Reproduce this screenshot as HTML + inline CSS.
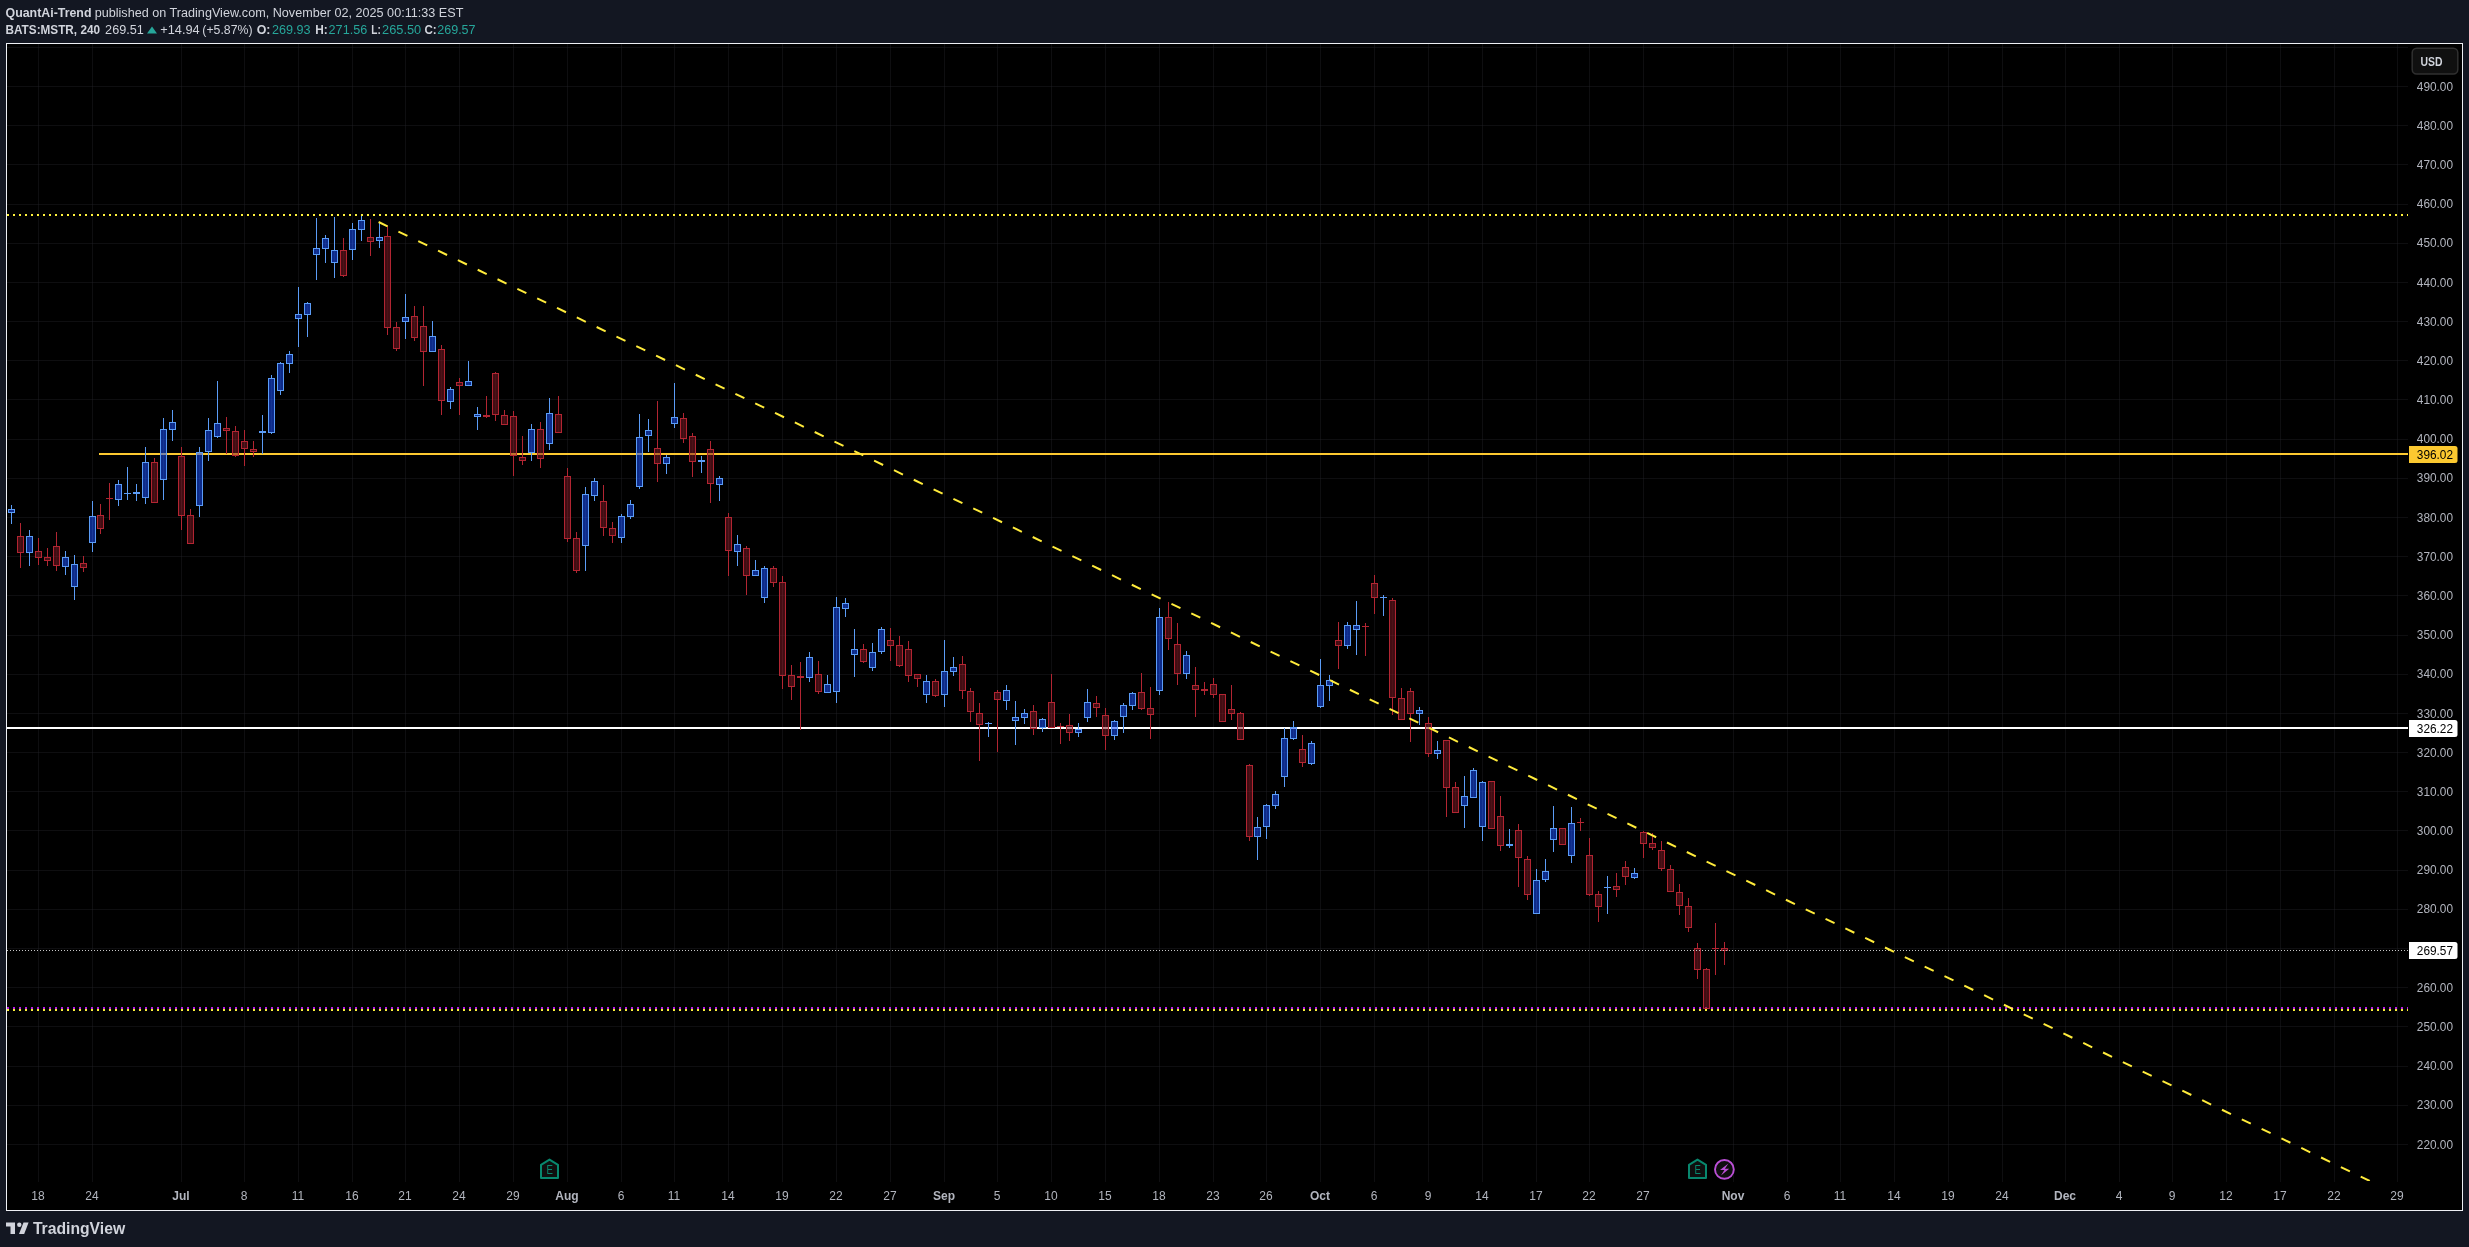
<!DOCTYPE html>
<html><head><meta charset="utf-8"><style>
html,body{margin:0;padding:0;background:#131722;width:2469px;height:1247px;overflow:hidden;}
svg{position:absolute;left:0;top:0;will-change:transform;}
text{font-family:"Liberation Sans",Arial,sans-serif;}
</style></head><body>
<svg width="2469" height="1247" viewBox="0 0 2469 1247" shape-rendering="crispEdges">
<defs><clipPath id="pane"><rect x="7" y="44" width="2401" height="1137"/></clipPath></defs>
<rect x="6.5" y="43.5" width="2456" height="1167" fill="#000" stroke="#eef0f5" stroke-width="1"/>
<rect x="38" y="44" width="1" height="1138" fill="rgba(38,38,44,0.37)"/>
<rect x="92" y="44" width="1" height="1138" fill="rgba(38,38,44,0.37)"/>
<rect x="181" y="44" width="1" height="1138" fill="rgba(38,38,44,0.37)"/>
<rect x="244" y="44" width="1" height="1138" fill="rgba(38,38,44,0.37)"/>
<rect x="298" y="44" width="1" height="1138" fill="rgba(38,38,44,0.37)"/>
<rect x="352" y="44" width="1" height="1138" fill="rgba(38,38,44,0.37)"/>
<rect x="405" y="44" width="1" height="1138" fill="rgba(38,38,44,0.37)"/>
<rect x="459" y="44" width="1" height="1138" fill="rgba(38,38,44,0.37)"/>
<rect x="513" y="44" width="1" height="1138" fill="rgba(38,38,44,0.37)"/>
<rect x="567" y="44" width="1" height="1138" fill="rgba(38,38,44,0.37)"/>
<rect x="621" y="44" width="1" height="1138" fill="rgba(38,38,44,0.37)"/>
<rect x="674" y="44" width="1" height="1138" fill="rgba(38,38,44,0.37)"/>
<rect x="728" y="44" width="1" height="1138" fill="rgba(38,38,44,0.37)"/>
<rect x="782" y="44" width="1" height="1138" fill="rgba(38,38,44,0.37)"/>
<rect x="836" y="44" width="1" height="1138" fill="rgba(38,38,44,0.37)"/>
<rect x="890" y="44" width="1" height="1138" fill="rgba(38,38,44,0.37)"/>
<rect x="944" y="44" width="1" height="1138" fill="rgba(38,38,44,0.37)"/>
<rect x="997" y="44" width="1" height="1138" fill="rgba(38,38,44,0.37)"/>
<rect x="1051" y="44" width="1" height="1138" fill="rgba(38,38,44,0.37)"/>
<rect x="1105" y="44" width="1" height="1138" fill="rgba(38,38,44,0.37)"/>
<rect x="1159" y="44" width="1" height="1138" fill="rgba(38,38,44,0.37)"/>
<rect x="1213" y="44" width="1" height="1138" fill="rgba(38,38,44,0.37)"/>
<rect x="1266" y="44" width="1" height="1138" fill="rgba(38,38,44,0.37)"/>
<rect x="1320" y="44" width="1" height="1138" fill="rgba(38,38,44,0.37)"/>
<rect x="1374" y="44" width="1" height="1138" fill="rgba(38,38,44,0.37)"/>
<rect x="1428" y="44" width="1" height="1138" fill="rgba(38,38,44,0.37)"/>
<rect x="1482" y="44" width="1" height="1138" fill="rgba(38,38,44,0.37)"/>
<rect x="1536" y="44" width="1" height="1138" fill="rgba(38,38,44,0.37)"/>
<rect x="1589" y="44" width="1" height="1138" fill="rgba(38,38,44,0.37)"/>
<rect x="1643" y="44" width="1" height="1138" fill="rgba(38,38,44,0.37)"/>
<rect x="1733" y="44" width="1" height="1138" fill="rgba(38,38,44,0.37)"/>
<rect x="1787" y="44" width="1" height="1138" fill="rgba(38,38,44,0.37)"/>
<rect x="1840" y="44" width="1" height="1138" fill="rgba(38,38,44,0.37)"/>
<rect x="1894" y="44" width="1" height="1138" fill="rgba(38,38,44,0.37)"/>
<rect x="1948" y="44" width="1" height="1138" fill="rgba(38,38,44,0.37)"/>
<rect x="2002" y="44" width="1" height="1138" fill="rgba(38,38,44,0.37)"/>
<rect x="2065" y="44" width="1" height="1138" fill="rgba(38,38,44,0.37)"/>
<rect x="2119" y="44" width="1" height="1138" fill="rgba(38,38,44,0.37)"/>
<rect x="2172" y="44" width="1" height="1138" fill="rgba(38,38,44,0.37)"/>
<rect x="2226" y="44" width="1" height="1138" fill="rgba(38,38,44,0.37)"/>
<rect x="2280" y="44" width="1" height="1138" fill="rgba(38,38,44,0.37)"/>
<rect x="2334" y="44" width="1" height="1138" fill="rgba(38,38,44,0.37)"/>
<rect x="2397" y="44" width="1" height="1138" fill="rgba(38,38,44,0.37)"/>
<rect x="7" y="47" width="2401" height="1" fill="rgba(38,38,44,0.37)"/>
<rect x="7" y="86" width="2401" height="1" fill="rgba(38,38,44,0.37)"/>
<rect x="7" y="125" width="2401" height="1" fill="rgba(38,38,44,0.37)"/>
<rect x="7" y="164" width="2401" height="1" fill="rgba(38,38,44,0.37)"/>
<rect x="7" y="204" width="2401" height="1" fill="rgba(38,38,44,0.37)"/>
<rect x="7" y="243" width="2401" height="1" fill="rgba(38,38,44,0.37)"/>
<rect x="7" y="282" width="2401" height="1" fill="rgba(38,38,44,0.37)"/>
<rect x="7" y="321" width="2401" height="1" fill="rgba(38,38,44,0.37)"/>
<rect x="7" y="360" width="2401" height="1" fill="rgba(38,38,44,0.37)"/>
<rect x="7" y="399" width="2401" height="1" fill="rgba(38,38,44,0.37)"/>
<rect x="7" y="439" width="2401" height="1" fill="rgba(38,38,44,0.37)"/>
<rect x="7" y="478" width="2401" height="1" fill="rgba(38,38,44,0.37)"/>
<rect x="7" y="517" width="2401" height="1" fill="rgba(38,38,44,0.37)"/>
<rect x="7" y="556" width="2401" height="1" fill="rgba(38,38,44,0.37)"/>
<rect x="7" y="595" width="2401" height="1" fill="rgba(38,38,44,0.37)"/>
<rect x="7" y="635" width="2401" height="1" fill="rgba(38,38,44,0.37)"/>
<rect x="7" y="674" width="2401" height="1" fill="rgba(38,38,44,0.37)"/>
<rect x="7" y="713" width="2401" height="1" fill="rgba(38,38,44,0.37)"/>
<rect x="7" y="752" width="2401" height="1" fill="rgba(38,38,44,0.37)"/>
<rect x="7" y="791" width="2401" height="1" fill="rgba(38,38,44,0.37)"/>
<rect x="7" y="830" width="2401" height="1" fill="rgba(38,38,44,0.37)"/>
<rect x="7" y="870" width="2401" height="1" fill="rgba(38,38,44,0.37)"/>
<rect x="7" y="909" width="2401" height="1" fill="rgba(38,38,44,0.37)"/>
<rect x="7" y="948" width="2401" height="1" fill="rgba(38,38,44,0.37)"/>
<rect x="7" y="987" width="2401" height="1" fill="rgba(38,38,44,0.37)"/>
<rect x="7" y="1026" width="2401" height="1" fill="rgba(38,38,44,0.37)"/>
<rect x="7" y="1066" width="2401" height="1" fill="rgba(38,38,44,0.37)"/>
<rect x="7" y="1105" width="2401" height="1" fill="rgba(38,38,44,0.37)"/>
<rect x="7" y="1144" width="2401" height="1" fill="rgba(38,38,44,0.37)"/>
<line x1="7" y1="215" x2="2408" y2="215" stroke="#fff23c" stroke-width="2" stroke-dasharray="2 4" shape-rendering="crispEdges"/>
<rect x="99" y="453" width="2309" height="2" fill="#fcc930"/>
<rect x="7" y="727" width="2401" height="2" fill="#ffffff"/>
<line x1="7" y1="1008" x2="2408" y2="1008" stroke="#b41ee0" stroke-width="2" stroke-dasharray="2 4"/>
<line x1="7" y1="1010" x2="2408" y2="1010" stroke="#fff23c" stroke-width="2" stroke-dasharray="2 4"/>
<rect x="11" y="505" width="1" height="4" fill="#5b9cf6"/>
<rect x="11" y="513" width="1" height="11" fill="#5b9cf6"/>
<path d="M8 509h7v4h-7zM9 510v2h5v-2z" fill="#5b9cf6" fill-rule="evenodd"/>
<rect x="9" y="510" width="5" height="2" fill="rgba(24,78,251,0.55)"/>
<rect x="11" y="510" width="1" height="2" fill="rgba(110,160,255,0.08)"/>
<rect x="20" y="523" width="1" height="13" fill="#b22532"/>
<rect x="20" y="553" width="1" height="15" fill="#b22532"/>
<path d="M17 536h7v17h-7zM18 537v15h5v-15z" fill="#b22532" fill-rule="evenodd"/>
<rect x="18" y="537" width="5" height="15" fill="rgba(132,26,38,0.5)"/>
<rect x="20" y="537" width="1" height="15" fill="rgba(255,90,110,0.06)"/>
<rect x="29" y="530" width="1" height="6" fill="#5b9cf6"/>
<rect x="29" y="553" width="1" height="13" fill="#5b9cf6"/>
<path d="M26 536h7v17h-7zM27 537v15h5v-15z" fill="#5b9cf6" fill-rule="evenodd"/>
<rect x="27" y="537" width="5" height="15" fill="rgba(24,78,251,0.55)"/>
<rect x="29" y="537" width="1" height="15" fill="rgba(110,160,255,0.08)"/>
<rect x="38" y="538" width="1" height="13" fill="#b22532"/>
<rect x="38" y="558" width="1" height="7" fill="#b22532"/>
<path d="M35 551h7v7h-7zM36 552v5h5v-5z" fill="#b22532" fill-rule="evenodd"/>
<rect x="36" y="552" width="5" height="5" fill="rgba(132,26,38,0.5)"/>
<rect x="38" y="552" width="1" height="5" fill="rgba(255,90,110,0.06)"/>
<rect x="47" y="548" width="1" height="9" fill="#b22532"/>
<rect x="47" y="561" width="1" height="5" fill="#b22532"/>
<path d="M44 557h7v4h-7zM45 558v2h5v-2z" fill="#b22532" fill-rule="evenodd"/>
<rect x="45" y="558" width="5" height="2" fill="rgba(132,26,38,0.5)"/>
<rect x="47" y="558" width="1" height="2" fill="rgba(255,90,110,0.06)"/>
<rect x="56" y="532" width="1" height="14" fill="#b22532"/>
<rect x="56" y="566" width="1" height="5" fill="#b22532"/>
<path d="M53 546h7v20h-7zM54 547v18h5v-18z" fill="#b22532" fill-rule="evenodd"/>
<rect x="54" y="547" width="5" height="18" fill="rgba(132,26,38,0.5)"/>
<rect x="56" y="547" width="1" height="18" fill="rgba(255,90,110,0.06)"/>
<rect x="65" y="551" width="1" height="6" fill="#5b9cf6"/>
<rect x="65" y="567" width="1" height="8" fill="#5b9cf6"/>
<path d="M62 557h7v10h-7zM63 558v8h5v-8z" fill="#5b9cf6" fill-rule="evenodd"/>
<rect x="63" y="558" width="5" height="8" fill="rgba(24,78,251,0.55)"/>
<rect x="65" y="558" width="1" height="8" fill="rgba(110,160,255,0.08)"/>
<rect x="74" y="555" width="1" height="9" fill="#5b9cf6"/>
<rect x="74" y="587" width="1" height="13" fill="#5b9cf6"/>
<path d="M71 564h7v23h-7zM72 565v21h5v-21z" fill="#5b9cf6" fill-rule="evenodd"/>
<rect x="72" y="565" width="5" height="21" fill="rgba(24,78,251,0.55)"/>
<rect x="74" y="565" width="1" height="21" fill="rgba(110,160,255,0.08)"/>
<rect x="83" y="556" width="1" height="7" fill="#b22532"/>
<rect x="83" y="568" width="1" height="4" fill="#b22532"/>
<path d="M80 563h7v5h-7zM81 564v3h5v-3z" fill="#b22532" fill-rule="evenodd"/>
<rect x="81" y="564" width="5" height="3" fill="rgba(132,26,38,0.5)"/>
<rect x="83" y="564" width="1" height="3" fill="rgba(255,90,110,0.06)"/>
<rect x="92" y="501" width="1" height="15" fill="#5b9cf6"/>
<rect x="92" y="543" width="1" height="9" fill="#5b9cf6"/>
<path d="M89 516h7v27h-7zM90 517v25h5v-25z" fill="#5b9cf6" fill-rule="evenodd"/>
<rect x="90" y="517" width="5" height="25" fill="rgba(24,78,251,0.55)"/>
<rect x="92" y="517" width="1" height="25" fill="rgba(110,160,255,0.08)"/>
<rect x="100" y="504" width="1" height="11" fill="#b22532"/>
<rect x="100" y="529" width="1" height="5" fill="#b22532"/>
<path d="M97 515h7v14h-7zM98 516v12h5v-12z" fill="#b22532" fill-rule="evenodd"/>
<rect x="98" y="516" width="5" height="12" fill="rgba(132,26,38,0.5)"/>
<rect x="100" y="516" width="1" height="12" fill="rgba(255,90,110,0.06)"/>
<rect x="109" y="483" width="1" height="15" fill="#b22532"/>
<rect x="109" y="499" width="1" height="21" fill="#b22532"/>
<rect x="106" y="498" width="7" height="1" fill="#b22532"/>
<rect x="118" y="480" width="1" height="4" fill="#5b9cf6"/>
<rect x="118" y="500" width="1" height="6" fill="#5b9cf6"/>
<path d="M115 484h7v16h-7zM116 485v14h5v-14z" fill="#5b9cf6" fill-rule="evenodd"/>
<rect x="116" y="485" width="5" height="14" fill="rgba(24,78,251,0.55)"/>
<rect x="118" y="485" width="1" height="14" fill="rgba(110,160,255,0.08)"/>
<rect x="127" y="467" width="1" height="26" fill="#5b9cf6"/>
<rect x="127" y="494" width="1" height="6" fill="#5b9cf6"/>
<rect x="124" y="493" width="7" height="1" fill="#5b9cf6"/>
<rect x="136" y="484" width="1" height="8" fill="#5b9cf6"/>
<rect x="136" y="494" width="1" height="7" fill="#5b9cf6"/>
<rect x="133" y="492" width="7" height="2" fill="#5b9cf6"/>
<rect x="145" y="447" width="1" height="15" fill="#5b9cf6"/>
<rect x="145" y="498" width="1" height="6" fill="#5b9cf6"/>
<path d="M142 462h7v36h-7zM143 463v34h5v-34z" fill="#5b9cf6" fill-rule="evenodd"/>
<rect x="143" y="463" width="5" height="34" fill="rgba(24,78,251,0.55)"/>
<rect x="145" y="463" width="1" height="34" fill="rgba(110,160,255,0.08)"/>
<rect x="154" y="458" width="1" height="4" fill="#b22532"/>
<path d="M151 462h7v41h-7zM152 463v39h5v-39z" fill="#b22532" fill-rule="evenodd"/>
<rect x="152" y="463" width="5" height="39" fill="rgba(132,26,38,0.5)"/>
<rect x="154" y="463" width="1" height="39" fill="rgba(255,90,110,0.06)"/>
<rect x="163" y="418" width="1" height="11" fill="#5b9cf6"/>
<rect x="163" y="480" width="1" height="20" fill="#5b9cf6"/>
<path d="M160 429h7v51h-7zM161 430v49h5v-49z" fill="#5b9cf6" fill-rule="evenodd"/>
<rect x="161" y="430" width="5" height="49" fill="rgba(24,78,251,0.55)"/>
<rect x="163" y="430" width="1" height="49" fill="rgba(110,160,255,0.08)"/>
<rect x="172" y="410" width="1" height="12" fill="#5b9cf6"/>
<rect x="172" y="430" width="1" height="11" fill="#5b9cf6"/>
<path d="M169 422h7v8h-7zM170 423v6h5v-6z" fill="#5b9cf6" fill-rule="evenodd"/>
<rect x="170" y="423" width="5" height="6" fill="rgba(24,78,251,0.55)"/>
<rect x="172" y="423" width="1" height="6" fill="rgba(110,160,255,0.08)"/>
<rect x="181" y="447" width="1" height="9" fill="#b22532"/>
<rect x="181" y="516" width="1" height="14" fill="#b22532"/>
<path d="M178 456h7v60h-7zM179 457v58h5v-58z" fill="#b22532" fill-rule="evenodd"/>
<rect x="179" y="457" width="5" height="58" fill="rgba(132,26,38,0.5)"/>
<rect x="181" y="457" width="1" height="58" fill="rgba(255,90,110,0.06)"/>
<rect x="190" y="509" width="1" height="6" fill="#b22532"/>
<path d="M187 515h7v29h-7zM188 516v27h5v-27z" fill="#b22532" fill-rule="evenodd"/>
<rect x="188" y="516" width="5" height="27" fill="rgba(132,26,38,0.5)"/>
<rect x="190" y="516" width="1" height="27" fill="rgba(255,90,110,0.06)"/>
<rect x="199" y="447" width="1" height="5" fill="#5b9cf6"/>
<rect x="199" y="506" width="1" height="11" fill="#5b9cf6"/>
<path d="M196 452h7v54h-7zM197 453v52h5v-52z" fill="#5b9cf6" fill-rule="evenodd"/>
<rect x="197" y="453" width="5" height="52" fill="rgba(24,78,251,0.55)"/>
<rect x="199" y="453" width="1" height="52" fill="rgba(110,160,255,0.08)"/>
<rect x="208" y="418" width="1" height="12" fill="#5b9cf6"/>
<rect x="208" y="452" width="1" height="9" fill="#5b9cf6"/>
<path d="M205 430h7v22h-7zM206 431v20h5v-20z" fill="#5b9cf6" fill-rule="evenodd"/>
<rect x="206" y="431" width="5" height="20" fill="rgba(24,78,251,0.55)"/>
<rect x="208" y="431" width="1" height="20" fill="rgba(110,160,255,0.08)"/>
<rect x="217" y="381" width="1" height="42" fill="#5b9cf6"/>
<rect x="217" y="437" width="1" height="1" fill="#5b9cf6"/>
<path d="M214 423h7v14h-7zM215 424v12h5v-12z" fill="#5b9cf6" fill-rule="evenodd"/>
<rect x="215" y="424" width="5" height="12" fill="rgba(24,78,251,0.55)"/>
<rect x="217" y="424" width="1" height="12" fill="rgba(110,160,255,0.08)"/>
<rect x="226" y="417" width="1" height="11" fill="#b22532"/>
<rect x="226" y="431" width="1" height="23" fill="#b22532"/>
<path d="M223 428h7v3h-7zM224 429v1h5v-1z" fill="#b22532" fill-rule="evenodd"/>
<rect x="224" y="429" width="5" height="1" fill="rgba(132,26,38,0.5)"/>
<rect x="226" y="429" width="1" height="1" fill="rgba(255,90,110,0.06)"/>
<rect x="235" y="426" width="1" height="5" fill="#b22532"/>
<rect x="235" y="456" width="1" height="1" fill="#b22532"/>
<path d="M232 431h7v25h-7zM233 432v23h5v-23z" fill="#b22532" fill-rule="evenodd"/>
<rect x="233" y="432" width="5" height="23" fill="rgba(132,26,38,0.5)"/>
<rect x="235" y="432" width="1" height="23" fill="rgba(255,90,110,0.06)"/>
<rect x="244" y="430" width="1" height="11" fill="#b22532"/>
<rect x="244" y="449" width="1" height="17" fill="#b22532"/>
<path d="M241 441h7v8h-7zM242 442v6h5v-6z" fill="#b22532" fill-rule="evenodd"/>
<rect x="242" y="442" width="5" height="6" fill="rgba(132,26,38,0.5)"/>
<rect x="244" y="442" width="1" height="6" fill="rgba(255,90,110,0.06)"/>
<rect x="253" y="441" width="1" height="8" fill="#b22532"/>
<rect x="253" y="452" width="1" height="5" fill="#b22532"/>
<path d="M250 449h7v3h-7zM251 450v1h5v-1z" fill="#b22532" fill-rule="evenodd"/>
<rect x="251" y="450" width="5" height="1" fill="rgba(132,26,38,0.5)"/>
<rect x="253" y="450" width="1" height="1" fill="rgba(255,90,110,0.06)"/>
<rect x="262" y="415" width="1" height="16" fill="#5b9cf6"/>
<rect x="262" y="433" width="1" height="21" fill="#5b9cf6"/>
<rect x="259" y="431" width="7" height="2" fill="#5b9cf6"/>
<rect x="271" y="375" width="1" height="3" fill="#5b9cf6"/>
<rect x="271" y="433" width="1" height="1" fill="#5b9cf6"/>
<path d="M268 378h7v55h-7zM269 379v53h5v-53z" fill="#5b9cf6" fill-rule="evenodd"/>
<rect x="269" y="379" width="5" height="53" fill="rgba(24,78,251,0.55)"/>
<rect x="271" y="379" width="1" height="53" fill="rgba(110,160,255,0.08)"/>
<rect x="280" y="362" width="1" height="1" fill="#5b9cf6"/>
<rect x="280" y="391" width="1" height="4" fill="#5b9cf6"/>
<path d="M277 363h7v28h-7zM278 364v26h5v-26z" fill="#5b9cf6" fill-rule="evenodd"/>
<rect x="278" y="364" width="5" height="26" fill="rgba(24,78,251,0.55)"/>
<rect x="280" y="364" width="1" height="26" fill="rgba(110,160,255,0.08)"/>
<rect x="289" y="351" width="1" height="3" fill="#5b9cf6"/>
<rect x="289" y="364" width="1" height="9" fill="#5b9cf6"/>
<path d="M286 354h7v10h-7zM287 355v8h5v-8z" fill="#5b9cf6" fill-rule="evenodd"/>
<rect x="287" y="355" width="5" height="8" fill="rgba(24,78,251,0.55)"/>
<rect x="289" y="355" width="1" height="8" fill="rgba(110,160,255,0.08)"/>
<rect x="298" y="287" width="1" height="27" fill="#5b9cf6"/>
<rect x="298" y="319" width="1" height="28" fill="#5b9cf6"/>
<path d="M295 314h7v5h-7zM296 315v3h5v-3z" fill="#5b9cf6" fill-rule="evenodd"/>
<rect x="296" y="315" width="5" height="3" fill="rgba(24,78,251,0.55)"/>
<rect x="298" y="315" width="1" height="3" fill="rgba(110,160,255,0.08)"/>
<rect x="307" y="302" width="1" height="1" fill="#5b9cf6"/>
<rect x="307" y="315" width="1" height="22" fill="#5b9cf6"/>
<path d="M304 303h7v12h-7zM305 304v10h5v-10z" fill="#5b9cf6" fill-rule="evenodd"/>
<rect x="305" y="304" width="5" height="10" fill="rgba(24,78,251,0.55)"/>
<rect x="307" y="304" width="1" height="10" fill="rgba(110,160,255,0.08)"/>
<rect x="316" y="218" width="1" height="30" fill="#5b9cf6"/>
<rect x="316" y="255" width="1" height="25" fill="#5b9cf6"/>
<path d="M313 248h7v7h-7zM314 249v5h5v-5z" fill="#5b9cf6" fill-rule="evenodd"/>
<rect x="314" y="249" width="5" height="5" fill="rgba(24,78,251,0.55)"/>
<rect x="316" y="249" width="1" height="5" fill="rgba(110,160,255,0.08)"/>
<rect x="325" y="235" width="1" height="3" fill="#5b9cf6"/>
<rect x="325" y="249" width="1" height="14" fill="#5b9cf6"/>
<path d="M322 238h7v11h-7zM323 239v9h5v-9z" fill="#5b9cf6" fill-rule="evenodd"/>
<rect x="323" y="239" width="5" height="9" fill="rgba(24,78,251,0.55)"/>
<rect x="325" y="239" width="1" height="9" fill="rgba(110,160,255,0.08)"/>
<rect x="334" y="217" width="1" height="33" fill="#5b9cf6"/>
<rect x="334" y="263" width="1" height="15" fill="#5b9cf6"/>
<path d="M331 250h7v13h-7zM332 251v11h5v-11z" fill="#5b9cf6" fill-rule="evenodd"/>
<rect x="332" y="251" width="5" height="11" fill="rgba(24,78,251,0.55)"/>
<rect x="334" y="251" width="1" height="11" fill="rgba(110,160,255,0.08)"/>
<rect x="343" y="238" width="1" height="12" fill="#b22532"/>
<rect x="343" y="276" width="1" height="1" fill="#b22532"/>
<path d="M340 250h7v26h-7zM341 251v24h5v-24z" fill="#b22532" fill-rule="evenodd"/>
<rect x="341" y="251" width="5" height="24" fill="rgba(132,26,38,0.5)"/>
<rect x="343" y="251" width="1" height="24" fill="rgba(255,90,110,0.06)"/>
<rect x="352" y="223" width="1" height="6" fill="#5b9cf6"/>
<rect x="352" y="250" width="1" height="10" fill="#5b9cf6"/>
<path d="M349 229h7v21h-7zM350 230v19h5v-19z" fill="#5b9cf6" fill-rule="evenodd"/>
<rect x="350" y="230" width="5" height="19" fill="rgba(24,78,251,0.55)"/>
<rect x="352" y="230" width="1" height="19" fill="rgba(110,160,255,0.08)"/>
<rect x="361" y="216" width="1" height="4" fill="#5b9cf6"/>
<rect x="361" y="230" width="1" height="11" fill="#5b9cf6"/>
<path d="M358 220h7v10h-7zM359 221v8h5v-8z" fill="#5b9cf6" fill-rule="evenodd"/>
<rect x="359" y="221" width="5" height="8" fill="rgba(24,78,251,0.55)"/>
<rect x="361" y="221" width="1" height="8" fill="rgba(110,160,255,0.08)"/>
<rect x="370" y="219" width="1" height="18" fill="#b22532"/>
<rect x="370" y="242" width="1" height="14" fill="#b22532"/>
<path d="M367 237h7v5h-7zM368 238v3h5v-3z" fill="#b22532" fill-rule="evenodd"/>
<rect x="368" y="238" width="5" height="3" fill="rgba(132,26,38,0.5)"/>
<rect x="370" y="238" width="1" height="3" fill="rgba(255,90,110,0.06)"/>
<rect x="379" y="222" width="1" height="15" fill="#5b9cf6"/>
<rect x="379" y="241" width="1" height="7" fill="#5b9cf6"/>
<path d="M376 237h7v4h-7zM377 238v2h5v-2z" fill="#5b9cf6" fill-rule="evenodd"/>
<rect x="377" y="238" width="5" height="2" fill="rgba(24,78,251,0.55)"/>
<rect x="379" y="238" width="1" height="2" fill="rgba(110,160,255,0.08)"/>
<rect x="387" y="226" width="1" height="10" fill="#b22532"/>
<rect x="387" y="328" width="1" height="7" fill="#b22532"/>
<path d="M384 236h7v92h-7zM385 237v90h5v-90z" fill="#b22532" fill-rule="evenodd"/>
<rect x="385" y="237" width="5" height="90" fill="rgba(132,26,38,0.5)"/>
<rect x="387" y="237" width="1" height="90" fill="rgba(255,90,110,0.06)"/>
<rect x="396" y="322" width="1" height="5" fill="#b22532"/>
<rect x="396" y="349" width="1" height="2" fill="#b22532"/>
<path d="M393 327h7v22h-7zM394 328v20h5v-20z" fill="#b22532" fill-rule="evenodd"/>
<rect x="394" y="328" width="5" height="20" fill="rgba(132,26,38,0.5)"/>
<rect x="396" y="328" width="1" height="20" fill="rgba(255,90,110,0.06)"/>
<rect x="405" y="294" width="1" height="23" fill="#5b9cf6"/>
<rect x="405" y="322" width="1" height="17" fill="#5b9cf6"/>
<path d="M402 317h7v5h-7zM403 318v3h5v-3z" fill="#5b9cf6" fill-rule="evenodd"/>
<rect x="403" y="318" width="5" height="3" fill="rgba(24,78,251,0.55)"/>
<rect x="405" y="318" width="1" height="3" fill="rgba(110,160,255,0.08)"/>
<rect x="414" y="306" width="1" height="10" fill="#b22532"/>
<rect x="414" y="338" width="1" height="3" fill="#b22532"/>
<path d="M411 316h7v22h-7zM412 317v20h5v-20z" fill="#b22532" fill-rule="evenodd"/>
<rect x="412" y="317" width="5" height="20" fill="rgba(132,26,38,0.5)"/>
<rect x="414" y="317" width="1" height="20" fill="rgba(255,90,110,0.06)"/>
<rect x="423" y="306" width="1" height="20" fill="#b22532"/>
<rect x="423" y="352" width="1" height="34" fill="#b22532"/>
<path d="M420 326h7v26h-7zM421 327v24h5v-24z" fill="#b22532" fill-rule="evenodd"/>
<rect x="421" y="327" width="5" height="24" fill="rgba(132,26,38,0.5)"/>
<rect x="423" y="327" width="1" height="24" fill="rgba(255,90,110,0.06)"/>
<rect x="432" y="321" width="1" height="15" fill="#5b9cf6"/>
<path d="M429 336h7v16h-7zM430 337v14h5v-14z" fill="#5b9cf6" fill-rule="evenodd"/>
<rect x="430" y="337" width="5" height="14" fill="rgba(24,78,251,0.55)"/>
<rect x="432" y="337" width="1" height="14" fill="rgba(110,160,255,0.08)"/>
<rect x="441" y="345" width="1" height="4" fill="#b22532"/>
<rect x="441" y="401" width="1" height="14" fill="#b22532"/>
<path d="M438 349h7v52h-7zM439 350v50h5v-50z" fill="#b22532" fill-rule="evenodd"/>
<rect x="439" y="350" width="5" height="50" fill="rgba(132,26,38,0.5)"/>
<rect x="441" y="350" width="1" height="50" fill="rgba(255,90,110,0.06)"/>
<rect x="450" y="387" width="1" height="2" fill="#5b9cf6"/>
<rect x="450" y="402" width="1" height="7" fill="#5b9cf6"/>
<path d="M447 389h7v13h-7zM448 390v11h5v-11z" fill="#5b9cf6" fill-rule="evenodd"/>
<rect x="448" y="390" width="5" height="11" fill="rgba(24,78,251,0.55)"/>
<rect x="450" y="390" width="1" height="11" fill="rgba(110,160,255,0.08)"/>
<rect x="459" y="378" width="1" height="4" fill="#b22532"/>
<rect x="459" y="386" width="1" height="29" fill="#b22532"/>
<path d="M456 382h7v4h-7zM457 383v2h5v-2z" fill="#b22532" fill-rule="evenodd"/>
<rect x="457" y="383" width="5" height="2" fill="rgba(132,26,38,0.5)"/>
<rect x="459" y="383" width="1" height="2" fill="rgba(255,90,110,0.06)"/>
<rect x="468" y="361" width="1" height="20" fill="#5b9cf6"/>
<path d="M465 381h7v5h-7zM466 382v3h5v-3z" fill="#5b9cf6" fill-rule="evenodd"/>
<rect x="466" y="382" width="5" height="3" fill="rgba(24,78,251,0.55)"/>
<rect x="468" y="382" width="1" height="3" fill="rgba(110,160,255,0.08)"/>
<rect x="477" y="407" width="1" height="7" fill="#5b9cf6"/>
<rect x="477" y="417" width="1" height="13" fill="#5b9cf6"/>
<path d="M474 414h7v3h-7zM475 415v1h5v-1z" fill="#5b9cf6" fill-rule="evenodd"/>
<rect x="475" y="415" width="5" height="1" fill="rgba(24,78,251,0.55)"/>
<rect x="477" y="415" width="1" height="1" fill="rgba(110,160,255,0.08)"/>
<rect x="486" y="396" width="1" height="19" fill="#b22532"/>
<rect x="486" y="417" width="1" height="1" fill="#b22532"/>
<rect x="483" y="415" width="7" height="2" fill="#b22532"/>
<rect x="495" y="372" width="1" height="1" fill="#b22532"/>
<rect x="495" y="415" width="1" height="6" fill="#b22532"/>
<path d="M492 373h7v42h-7zM493 374v40h5v-40z" fill="#b22532" fill-rule="evenodd"/>
<rect x="493" y="374" width="5" height="40" fill="rgba(132,26,38,0.5)"/>
<rect x="495" y="374" width="1" height="40" fill="rgba(255,90,110,0.06)"/>
<rect x="504" y="410" width="1" height="5" fill="#b22532"/>
<path d="M501 415h7v10h-7zM502 416v8h5v-8z" fill="#b22532" fill-rule="evenodd"/>
<rect x="502" y="416" width="5" height="8" fill="rgba(132,26,38,0.5)"/>
<rect x="504" y="416" width="1" height="8" fill="rgba(255,90,110,0.06)"/>
<rect x="513" y="411" width="1" height="5" fill="#b22532"/>
<rect x="513" y="456" width="1" height="20" fill="#b22532"/>
<path d="M510 416h7v40h-7zM511 417v38h5v-38z" fill="#b22532" fill-rule="evenodd"/>
<rect x="511" y="417" width="5" height="38" fill="rgba(132,26,38,0.5)"/>
<rect x="513" y="417" width="1" height="38" fill="rgba(255,90,110,0.06)"/>
<rect x="522" y="436" width="1" height="21" fill="#b22532"/>
<rect x="522" y="461" width="1" height="4" fill="#b22532"/>
<path d="M519 457h7v4h-7zM520 458v2h5v-2z" fill="#b22532" fill-rule="evenodd"/>
<rect x="520" y="458" width="5" height="2" fill="rgba(132,26,38,0.5)"/>
<rect x="522" y="458" width="1" height="2" fill="rgba(255,90,110,0.06)"/>
<rect x="531" y="424" width="1" height="5" fill="#5b9cf6"/>
<rect x="531" y="453" width="1" height="8" fill="#5b9cf6"/>
<path d="M528 429h7v24h-7zM529 430v22h5v-22z" fill="#5b9cf6" fill-rule="evenodd"/>
<rect x="529" y="430" width="5" height="22" fill="rgba(24,78,251,0.55)"/>
<rect x="531" y="430" width="1" height="22" fill="rgba(110,160,255,0.08)"/>
<rect x="540" y="422" width="1" height="7" fill="#b22532"/>
<rect x="540" y="459" width="1" height="9" fill="#b22532"/>
<path d="M537 429h7v30h-7zM538 430v28h5v-28z" fill="#b22532" fill-rule="evenodd"/>
<rect x="538" y="430" width="5" height="28" fill="rgba(132,26,38,0.5)"/>
<rect x="540" y="430" width="1" height="28" fill="rgba(255,90,110,0.06)"/>
<rect x="549" y="398" width="1" height="15" fill="#5b9cf6"/>
<rect x="549" y="444" width="1" height="6" fill="#5b9cf6"/>
<path d="M546 413h7v31h-7zM547 414v29h5v-29z" fill="#5b9cf6" fill-rule="evenodd"/>
<rect x="547" y="414" width="5" height="29" fill="rgba(24,78,251,0.55)"/>
<rect x="549" y="414" width="1" height="29" fill="rgba(110,160,255,0.08)"/>
<rect x="558" y="396" width="1" height="18" fill="#b22532"/>
<path d="M555 414h7v19h-7zM556 415v17h5v-17z" fill="#b22532" fill-rule="evenodd"/>
<rect x="556" y="415" width="5" height="17" fill="rgba(132,26,38,0.5)"/>
<rect x="558" y="415" width="1" height="17" fill="rgba(255,90,110,0.06)"/>
<rect x="567" y="468" width="1" height="8" fill="#b22532"/>
<rect x="567" y="539" width="1" height="3" fill="#b22532"/>
<path d="M564 476h7v63h-7zM565 477v61h5v-61z" fill="#b22532" fill-rule="evenodd"/>
<rect x="565" y="477" width="5" height="61" fill="rgba(132,26,38,0.5)"/>
<rect x="567" y="477" width="1" height="61" fill="rgba(255,90,110,0.06)"/>
<rect x="576" y="532" width="1" height="6" fill="#b22532"/>
<rect x="576" y="571" width="1" height="2" fill="#b22532"/>
<path d="M573 538h7v33h-7zM574 539v31h5v-31z" fill="#b22532" fill-rule="evenodd"/>
<rect x="574" y="539" width="5" height="31" fill="rgba(132,26,38,0.5)"/>
<rect x="576" y="539" width="1" height="31" fill="rgba(255,90,110,0.06)"/>
<rect x="585" y="487" width="1" height="7" fill="#5b9cf6"/>
<rect x="585" y="546" width="1" height="25" fill="#5b9cf6"/>
<path d="M582 494h7v52h-7zM583 495v50h5v-50z" fill="#5b9cf6" fill-rule="evenodd"/>
<rect x="583" y="495" width="5" height="50" fill="rgba(24,78,251,0.55)"/>
<rect x="585" y="495" width="1" height="50" fill="rgba(110,160,255,0.08)"/>
<rect x="594" y="478" width="1" height="3" fill="#5b9cf6"/>
<rect x="594" y="496" width="1" height="5" fill="#5b9cf6"/>
<path d="M591 481h7v15h-7zM592 482v13h5v-13z" fill="#5b9cf6" fill-rule="evenodd"/>
<rect x="592" y="482" width="5" height="13" fill="rgba(24,78,251,0.55)"/>
<rect x="594" y="482" width="1" height="13" fill="rgba(110,160,255,0.08)"/>
<rect x="603" y="485" width="1" height="16" fill="#b22532"/>
<rect x="603" y="528" width="1" height="8" fill="#b22532"/>
<path d="M600 501h7v27h-7zM601 502v25h5v-25z" fill="#b22532" fill-rule="evenodd"/>
<rect x="601" y="502" width="5" height="25" fill="rgba(132,26,38,0.5)"/>
<rect x="603" y="502" width="1" height="25" fill="rgba(255,90,110,0.06)"/>
<rect x="612" y="522" width="1" height="6" fill="#b22532"/>
<rect x="612" y="536" width="1" height="7" fill="#b22532"/>
<path d="M609 528h7v8h-7zM610 529v6h5v-6z" fill="#b22532" fill-rule="evenodd"/>
<rect x="610" y="529" width="5" height="6" fill="rgba(132,26,38,0.5)"/>
<rect x="612" y="529" width="1" height="6" fill="rgba(255,90,110,0.06)"/>
<rect x="621" y="514" width="1" height="2" fill="#5b9cf6"/>
<rect x="621" y="538" width="1" height="5" fill="#5b9cf6"/>
<path d="M618 516h7v22h-7zM619 517v20h5v-20z" fill="#5b9cf6" fill-rule="evenodd"/>
<rect x="619" y="517" width="5" height="20" fill="rgba(24,78,251,0.55)"/>
<rect x="621" y="517" width="1" height="20" fill="rgba(110,160,255,0.08)"/>
<rect x="630" y="500" width="1" height="4" fill="#5b9cf6"/>
<rect x="630" y="517" width="1" height="2" fill="#5b9cf6"/>
<path d="M627 504h7v13h-7zM628 505v11h5v-11z" fill="#5b9cf6" fill-rule="evenodd"/>
<rect x="628" y="505" width="5" height="11" fill="rgba(24,78,251,0.55)"/>
<rect x="630" y="505" width="1" height="11" fill="rgba(110,160,255,0.08)"/>
<rect x="639" y="414" width="1" height="23" fill="#5b9cf6"/>
<rect x="639" y="487" width="1" height="2" fill="#5b9cf6"/>
<path d="M636 437h7v50h-7zM637 438v48h5v-48z" fill="#5b9cf6" fill-rule="evenodd"/>
<rect x="637" y="438" width="5" height="48" fill="rgba(24,78,251,0.55)"/>
<rect x="639" y="438" width="1" height="48" fill="rgba(110,160,255,0.08)"/>
<rect x="648" y="419" width="1" height="11" fill="#5b9cf6"/>
<rect x="648" y="436" width="1" height="16" fill="#5b9cf6"/>
<path d="M645 430h7v6h-7zM646 431v4h5v-4z" fill="#5b9cf6" fill-rule="evenodd"/>
<rect x="646" y="431" width="5" height="4" fill="rgba(24,78,251,0.55)"/>
<rect x="648" y="431" width="1" height="4" fill="rgba(110,160,255,0.08)"/>
<rect x="657" y="401" width="1" height="47" fill="#b22532"/>
<rect x="657" y="464" width="1" height="18" fill="#b22532"/>
<path d="M654 448h7v16h-7zM655 449v14h5v-14z" fill="#b22532" fill-rule="evenodd"/>
<rect x="655" y="449" width="5" height="14" fill="rgba(132,26,38,0.5)"/>
<rect x="657" y="449" width="1" height="14" fill="rgba(255,90,110,0.06)"/>
<rect x="666" y="455" width="1" height="2" fill="#5b9cf6"/>
<rect x="666" y="464" width="1" height="10" fill="#5b9cf6"/>
<path d="M663 457h7v7h-7zM664 458v5h5v-5z" fill="#5b9cf6" fill-rule="evenodd"/>
<rect x="664" y="458" width="5" height="5" fill="rgba(24,78,251,0.55)"/>
<rect x="666" y="458" width="1" height="5" fill="rgba(110,160,255,0.08)"/>
<rect x="674" y="383" width="1" height="34" fill="#5b9cf6"/>
<rect x="674" y="424" width="1" height="4" fill="#5b9cf6"/>
<path d="M671 417h7v7h-7zM672 418v5h5v-5z" fill="#5b9cf6" fill-rule="evenodd"/>
<rect x="672" y="418" width="5" height="5" fill="rgba(24,78,251,0.55)"/>
<rect x="674" y="418" width="1" height="5" fill="rgba(110,160,255,0.08)"/>
<rect x="683" y="413" width="1" height="5" fill="#b22532"/>
<rect x="683" y="439" width="1" height="4" fill="#b22532"/>
<path d="M680 418h7v21h-7zM681 419v19h5v-19z" fill="#b22532" fill-rule="evenodd"/>
<rect x="681" y="419" width="5" height="19" fill="rgba(132,26,38,0.5)"/>
<rect x="683" y="419" width="1" height="19" fill="rgba(255,90,110,0.06)"/>
<rect x="692" y="433" width="1" height="3" fill="#b22532"/>
<rect x="692" y="462" width="1" height="15" fill="#b22532"/>
<path d="M689 436h7v26h-7zM690 437v24h5v-24z" fill="#b22532" fill-rule="evenodd"/>
<rect x="690" y="437" width="5" height="24" fill="rgba(132,26,38,0.5)"/>
<rect x="692" y="437" width="1" height="24" fill="rgba(255,90,110,0.06)"/>
<rect x="701" y="456" width="1" height="4" fill="#5b9cf6"/>
<rect x="701" y="462" width="1" height="11" fill="#5b9cf6"/>
<rect x="698" y="460" width="7" height="2" fill="#5b9cf6"/>
<rect x="710" y="441" width="1" height="8" fill="#b22532"/>
<rect x="710" y="484" width="1" height="19" fill="#b22532"/>
<path d="M707 449h7v35h-7zM708 450v33h5v-33z" fill="#b22532" fill-rule="evenodd"/>
<rect x="708" y="450" width="5" height="33" fill="rgba(132,26,38,0.5)"/>
<rect x="710" y="450" width="1" height="33" fill="rgba(255,90,110,0.06)"/>
<rect x="719" y="476" width="1" height="2" fill="#5b9cf6"/>
<rect x="719" y="485" width="1" height="16" fill="#5b9cf6"/>
<path d="M716 478h7v7h-7zM717 479v5h5v-5z" fill="#5b9cf6" fill-rule="evenodd"/>
<rect x="717" y="479" width="5" height="5" fill="rgba(24,78,251,0.55)"/>
<rect x="719" y="479" width="1" height="5" fill="rgba(110,160,255,0.08)"/>
<rect x="728" y="513" width="1" height="4" fill="#b22532"/>
<rect x="728" y="551" width="1" height="25" fill="#b22532"/>
<path d="M725 517h7v34h-7zM726 518v32h5v-32z" fill="#b22532" fill-rule="evenodd"/>
<rect x="726" y="518" width="5" height="32" fill="rgba(132,26,38,0.5)"/>
<rect x="728" y="518" width="1" height="32" fill="rgba(255,90,110,0.06)"/>
<rect x="737" y="535" width="1" height="9" fill="#5b9cf6"/>
<rect x="737" y="552" width="1" height="14" fill="#5b9cf6"/>
<path d="M734 544h7v8h-7zM735 545v6h5v-6z" fill="#5b9cf6" fill-rule="evenodd"/>
<rect x="735" y="545" width="5" height="6" fill="rgba(24,78,251,0.55)"/>
<rect x="737" y="545" width="1" height="6" fill="rgba(110,160,255,0.08)"/>
<rect x="746" y="546" width="1" height="2" fill="#b22532"/>
<rect x="746" y="576" width="1" height="19" fill="#b22532"/>
<path d="M743 548h7v28h-7zM744 549v26h5v-26z" fill="#b22532" fill-rule="evenodd"/>
<rect x="744" y="549" width="5" height="26" fill="rgba(132,26,38,0.5)"/>
<rect x="746" y="549" width="1" height="26" fill="rgba(255,90,110,0.06)"/>
<rect x="755" y="560" width="1" height="10" fill="#5b9cf6"/>
<path d="M752 570h7v6h-7zM753 571v4h5v-4z" fill="#5b9cf6" fill-rule="evenodd"/>
<rect x="753" y="571" width="5" height="4" fill="rgba(24,78,251,0.55)"/>
<rect x="755" y="571" width="1" height="4" fill="rgba(110,160,255,0.08)"/>
<rect x="764" y="566" width="1" height="2" fill="#5b9cf6"/>
<rect x="764" y="598" width="1" height="5" fill="#5b9cf6"/>
<path d="M761 568h7v30h-7zM762 569v28h5v-28z" fill="#5b9cf6" fill-rule="evenodd"/>
<rect x="762" y="569" width="5" height="28" fill="rgba(24,78,251,0.55)"/>
<rect x="764" y="569" width="1" height="28" fill="rgba(110,160,255,0.08)"/>
<rect x="773" y="566" width="1" height="2" fill="#b22532"/>
<rect x="773" y="583" width="1" height="4" fill="#b22532"/>
<path d="M770 568h7v15h-7zM771 569v13h5v-13z" fill="#b22532" fill-rule="evenodd"/>
<rect x="771" y="569" width="5" height="13" fill="rgba(132,26,38,0.5)"/>
<rect x="773" y="569" width="1" height="13" fill="rgba(255,90,110,0.06)"/>
<rect x="782" y="576" width="1" height="6" fill="#b22532"/>
<rect x="782" y="676" width="1" height="13" fill="#b22532"/>
<path d="M779 582h7v94h-7zM780 583v92h5v-92z" fill="#b22532" fill-rule="evenodd"/>
<rect x="780" y="583" width="5" height="92" fill="rgba(132,26,38,0.5)"/>
<rect x="782" y="583" width="1" height="92" fill="rgba(255,90,110,0.06)"/>
<rect x="791" y="665" width="1" height="10" fill="#b22532"/>
<rect x="791" y="687" width="1" height="13" fill="#b22532"/>
<path d="M788 675h7v12h-7zM789 676v10h5v-10z" fill="#b22532" fill-rule="evenodd"/>
<rect x="789" y="676" width="5" height="10" fill="rgba(132,26,38,0.5)"/>
<rect x="791" y="676" width="1" height="10" fill="rgba(255,90,110,0.06)"/>
<rect x="800" y="662" width="1" height="14" fill="#b22532"/>
<rect x="800" y="678" width="1" height="52" fill="#b22532"/>
<rect x="797" y="676" width="7" height="2" fill="#b22532"/>
<rect x="809" y="652" width="1" height="5" fill="#5b9cf6"/>
<rect x="809" y="678" width="1" height="4" fill="#5b9cf6"/>
<path d="M806 657h7v21h-7zM807 658v19h5v-19z" fill="#5b9cf6" fill-rule="evenodd"/>
<rect x="807" y="658" width="5" height="19" fill="rgba(24,78,251,0.55)"/>
<rect x="809" y="658" width="1" height="19" fill="rgba(110,160,255,0.08)"/>
<rect x="818" y="661" width="1" height="13" fill="#b22532"/>
<rect x="818" y="692" width="1" height="2" fill="#b22532"/>
<path d="M815 674h7v18h-7zM816 675v16h5v-16z" fill="#b22532" fill-rule="evenodd"/>
<rect x="816" y="675" width="5" height="16" fill="rgba(132,26,38,0.5)"/>
<rect x="818" y="675" width="1" height="16" fill="rgba(255,90,110,0.06)"/>
<rect x="827" y="675" width="1" height="9" fill="#5b9cf6"/>
<path d="M824 684h7v9h-7zM825 685v7h5v-7z" fill="#5b9cf6" fill-rule="evenodd"/>
<rect x="825" y="685" width="5" height="7" fill="rgba(24,78,251,0.55)"/>
<rect x="827" y="685" width="1" height="7" fill="rgba(110,160,255,0.08)"/>
<rect x="836" y="597" width="1" height="10" fill="#5b9cf6"/>
<rect x="836" y="692" width="1" height="11" fill="#5b9cf6"/>
<path d="M833 607h7v85h-7zM834 608v83h5v-83z" fill="#5b9cf6" fill-rule="evenodd"/>
<rect x="834" y="608" width="5" height="83" fill="rgba(24,78,251,0.55)"/>
<rect x="836" y="608" width="1" height="83" fill="rgba(110,160,255,0.08)"/>
<rect x="845" y="598" width="1" height="5" fill="#5b9cf6"/>
<rect x="845" y="609" width="1" height="8" fill="#5b9cf6"/>
<path d="M842 603h7v6h-7zM843 604v4h5v-4z" fill="#5b9cf6" fill-rule="evenodd"/>
<rect x="843" y="604" width="5" height="4" fill="rgba(24,78,251,0.55)"/>
<rect x="845" y="604" width="1" height="4" fill="rgba(110,160,255,0.08)"/>
<rect x="854" y="629" width="1" height="20" fill="#5b9cf6"/>
<rect x="854" y="655" width="1" height="22" fill="#5b9cf6"/>
<path d="M851 649h7v6h-7zM852 650v4h5v-4z" fill="#5b9cf6" fill-rule="evenodd"/>
<rect x="852" y="650" width="5" height="4" fill="rgba(24,78,251,0.55)"/>
<rect x="854" y="650" width="1" height="4" fill="rgba(110,160,255,0.08)"/>
<rect x="863" y="644" width="1" height="5" fill="#b22532"/>
<rect x="863" y="662" width="1" height="1" fill="#b22532"/>
<path d="M860 649h7v13h-7zM861 650v11h5v-11z" fill="#b22532" fill-rule="evenodd"/>
<rect x="861" y="650" width="5" height="11" fill="rgba(132,26,38,0.5)"/>
<rect x="863" y="650" width="1" height="11" fill="rgba(255,90,110,0.06)"/>
<rect x="872" y="643" width="1" height="9" fill="#5b9cf6"/>
<rect x="872" y="668" width="1" height="3" fill="#5b9cf6"/>
<path d="M869 652h7v16h-7zM870 653v14h5v-14z" fill="#5b9cf6" fill-rule="evenodd"/>
<rect x="870" y="653" width="5" height="14" fill="rgba(24,78,251,0.55)"/>
<rect x="872" y="653" width="1" height="14" fill="rgba(110,160,255,0.08)"/>
<rect x="881" y="627" width="1" height="2" fill="#5b9cf6"/>
<rect x="881" y="652" width="1" height="2" fill="#5b9cf6"/>
<path d="M878 629h7v23h-7zM879 630v21h5v-21z" fill="#5b9cf6" fill-rule="evenodd"/>
<rect x="879" y="630" width="5" height="21" fill="rgba(24,78,251,0.55)"/>
<rect x="881" y="630" width="1" height="21" fill="rgba(110,160,255,0.08)"/>
<rect x="890" y="628" width="1" height="12" fill="#b22532"/>
<rect x="890" y="646" width="1" height="15" fill="#b22532"/>
<path d="M887 640h7v6h-7zM888 641v4h5v-4z" fill="#b22532" fill-rule="evenodd"/>
<rect x="888" y="641" width="5" height="4" fill="rgba(132,26,38,0.5)"/>
<rect x="890" y="641" width="1" height="4" fill="rgba(255,90,110,0.06)"/>
<rect x="899" y="636" width="1" height="9" fill="#b22532"/>
<rect x="899" y="666" width="1" height="1" fill="#b22532"/>
<path d="M896 645h7v21h-7zM897 646v19h5v-19z" fill="#b22532" fill-rule="evenodd"/>
<rect x="897" y="646" width="5" height="19" fill="rgba(132,26,38,0.5)"/>
<rect x="899" y="646" width="1" height="19" fill="rgba(255,90,110,0.06)"/>
<rect x="908" y="641" width="1" height="8" fill="#b22532"/>
<rect x="908" y="676" width="1" height="6" fill="#b22532"/>
<path d="M905 649h7v27h-7zM906 650v25h5v-25z" fill="#b22532" fill-rule="evenodd"/>
<rect x="906" y="650" width="5" height="25" fill="rgba(132,26,38,0.5)"/>
<rect x="908" y="650" width="1" height="25" fill="rgba(255,90,110,0.06)"/>
<rect x="917" y="679" width="1" height="8" fill="#b22532"/>
<path d="M914 674h7v5h-7zM915 675v3h5v-3z" fill="#b22532" fill-rule="evenodd"/>
<rect x="915" y="675" width="5" height="3" fill="rgba(132,26,38,0.5)"/>
<rect x="917" y="675" width="1" height="3" fill="rgba(255,90,110,0.06)"/>
<rect x="926" y="675" width="1" height="6" fill="#5b9cf6"/>
<rect x="926" y="695" width="1" height="8" fill="#5b9cf6"/>
<path d="M923 681h7v14h-7zM924 682v12h5v-12z" fill="#5b9cf6" fill-rule="evenodd"/>
<rect x="924" y="682" width="5" height="12" fill="rgba(24,78,251,0.55)"/>
<rect x="926" y="682" width="1" height="12" fill="rgba(110,160,255,0.08)"/>
<rect x="935" y="679" width="1" height="2" fill="#b22532"/>
<rect x="935" y="696" width="1" height="1" fill="#b22532"/>
<path d="M932 681h7v15h-7zM933 682v13h5v-13z" fill="#b22532" fill-rule="evenodd"/>
<rect x="933" y="682" width="5" height="13" fill="rgba(132,26,38,0.5)"/>
<rect x="935" y="682" width="1" height="13" fill="rgba(255,90,110,0.06)"/>
<rect x="944" y="640" width="1" height="31" fill="#5b9cf6"/>
<rect x="944" y="695" width="1" height="12" fill="#5b9cf6"/>
<path d="M941 671h7v24h-7zM942 672v22h5v-22z" fill="#5b9cf6" fill-rule="evenodd"/>
<rect x="942" y="672" width="5" height="22" fill="rgba(24,78,251,0.55)"/>
<rect x="944" y="672" width="1" height="22" fill="rgba(110,160,255,0.08)"/>
<rect x="953" y="657" width="1" height="10" fill="#5b9cf6"/>
<rect x="953" y="672" width="1" height="4" fill="#5b9cf6"/>
<path d="M950 667h7v5h-7zM951 668v3h5v-3z" fill="#5b9cf6" fill-rule="evenodd"/>
<rect x="951" y="668" width="5" height="3" fill="rgba(24,78,251,0.55)"/>
<rect x="953" y="668" width="1" height="3" fill="rgba(110,160,255,0.08)"/>
<rect x="962" y="656" width="1" height="8" fill="#b22532"/>
<rect x="962" y="691" width="1" height="8" fill="#b22532"/>
<path d="M959 664h7v27h-7zM960 665v25h5v-25z" fill="#b22532" fill-rule="evenodd"/>
<rect x="960" y="665" width="5" height="25" fill="rgba(132,26,38,0.5)"/>
<rect x="962" y="665" width="1" height="25" fill="rgba(255,90,110,0.06)"/>
<rect x="970" y="688" width="1" height="3" fill="#b22532"/>
<rect x="970" y="712" width="1" height="10" fill="#b22532"/>
<path d="M967 691h7v21h-7zM968 692v19h5v-19z" fill="#b22532" fill-rule="evenodd"/>
<rect x="968" y="692" width="5" height="19" fill="rgba(132,26,38,0.5)"/>
<rect x="970" y="692" width="1" height="19" fill="rgba(255,90,110,0.06)"/>
<rect x="979" y="703" width="1" height="10" fill="#b22532"/>
<rect x="979" y="725" width="1" height="36" fill="#b22532"/>
<path d="M976 713h7v12h-7zM977 714v10h5v-10z" fill="#b22532" fill-rule="evenodd"/>
<rect x="977" y="714" width="5" height="10" fill="rgba(132,26,38,0.5)"/>
<rect x="979" y="714" width="1" height="10" fill="rgba(255,90,110,0.06)"/>
<rect x="988" y="722" width="1" height="1" fill="#5b9cf6"/>
<rect x="988" y="724" width="1" height="13" fill="#5b9cf6"/>
<rect x="985" y="723" width="7" height="1" fill="#5b9cf6"/>
<rect x="997" y="690" width="1" height="2" fill="#b22532"/>
<rect x="997" y="700" width="1" height="52" fill="#b22532"/>
<path d="M994 692h7v8h-7zM995 693v6h5v-6z" fill="#b22532" fill-rule="evenodd"/>
<rect x="995" y="693" width="5" height="6" fill="rgba(132,26,38,0.5)"/>
<rect x="997" y="693" width="1" height="6" fill="rgba(255,90,110,0.06)"/>
<rect x="1006" y="685" width="1" height="5" fill="#5b9cf6"/>
<rect x="1006" y="701" width="1" height="9" fill="#5b9cf6"/>
<path d="M1003 690h7v11h-7zM1004 691v9h5v-9z" fill="#5b9cf6" fill-rule="evenodd"/>
<rect x="1004" y="691" width="5" height="9" fill="rgba(24,78,251,0.55)"/>
<rect x="1006" y="691" width="1" height="9" fill="rgba(110,160,255,0.08)"/>
<rect x="1015" y="701" width="1" height="16" fill="#5b9cf6"/>
<rect x="1015" y="721" width="1" height="24" fill="#5b9cf6"/>
<path d="M1012 717h7v4h-7zM1013 718v2h5v-2z" fill="#5b9cf6" fill-rule="evenodd"/>
<rect x="1013" y="718" width="5" height="2" fill="rgba(24,78,251,0.55)"/>
<rect x="1015" y="718" width="1" height="2" fill="rgba(110,160,255,0.08)"/>
<rect x="1024" y="709" width="1" height="4" fill="#5b9cf6"/>
<rect x="1024" y="718" width="1" height="6" fill="#5b9cf6"/>
<path d="M1021 713h7v5h-7zM1022 714v3h5v-3z" fill="#5b9cf6" fill-rule="evenodd"/>
<rect x="1022" y="714" width="5" height="3" fill="rgba(24,78,251,0.55)"/>
<rect x="1024" y="714" width="1" height="3" fill="rgba(110,160,255,0.08)"/>
<rect x="1033" y="705" width="1" height="6" fill="#b22532"/>
<rect x="1033" y="729" width="1" height="6" fill="#b22532"/>
<path d="M1030 711h7v18h-7zM1031 712v16h5v-16z" fill="#b22532" fill-rule="evenodd"/>
<rect x="1031" y="712" width="5" height="16" fill="rgba(132,26,38,0.5)"/>
<rect x="1033" y="712" width="1" height="16" fill="rgba(255,90,110,0.06)"/>
<rect x="1042" y="718" width="1" height="1" fill="#5b9cf6"/>
<rect x="1042" y="728" width="1" height="4" fill="#5b9cf6"/>
<path d="M1039 719h7v9h-7zM1040 720v7h5v-7z" fill="#5b9cf6" fill-rule="evenodd"/>
<rect x="1040" y="720" width="5" height="7" fill="rgba(24,78,251,0.55)"/>
<rect x="1042" y="720" width="1" height="7" fill="rgba(110,160,255,0.08)"/>
<rect x="1051" y="674" width="1" height="28" fill="#b22532"/>
<path d="M1048 702h7v26h-7zM1049 703v24h5v-24z" fill="#b22532" fill-rule="evenodd"/>
<rect x="1049" y="703" width="5" height="24" fill="rgba(132,26,38,0.5)"/>
<rect x="1051" y="703" width="1" height="24" fill="rgba(255,90,110,0.06)"/>
<rect x="1060" y="723" width="1" height="3" fill="#b22532"/>
<rect x="1060" y="727" width="1" height="17" fill="#b22532"/>
<rect x="1057" y="726" width="7" height="1" fill="#b22532"/>
<rect x="1069" y="714" width="1" height="11" fill="#b22532"/>
<rect x="1069" y="733" width="1" height="8" fill="#b22532"/>
<path d="M1066 725h7v8h-7zM1067 726v6h5v-6z" fill="#b22532" fill-rule="evenodd"/>
<rect x="1067" y="726" width="5" height="6" fill="rgba(132,26,38,0.5)"/>
<rect x="1069" y="726" width="1" height="6" fill="rgba(255,90,110,0.06)"/>
<rect x="1078" y="723" width="1" height="6" fill="#5b9cf6"/>
<rect x="1078" y="733" width="1" height="4" fill="#5b9cf6"/>
<path d="M1075 729h7v4h-7zM1076 730v2h5v-2z" fill="#5b9cf6" fill-rule="evenodd"/>
<rect x="1076" y="730" width="5" height="2" fill="rgba(24,78,251,0.55)"/>
<rect x="1078" y="730" width="1" height="2" fill="rgba(110,160,255,0.08)"/>
<rect x="1087" y="689" width="1" height="13" fill="#5b9cf6"/>
<rect x="1087" y="718" width="1" height="4" fill="#5b9cf6"/>
<path d="M1084 702h7v16h-7zM1085 703v14h5v-14z" fill="#5b9cf6" fill-rule="evenodd"/>
<rect x="1085" y="703" width="5" height="14" fill="rgba(24,78,251,0.55)"/>
<rect x="1087" y="703" width="1" height="14" fill="rgba(110,160,255,0.08)"/>
<rect x="1096" y="696" width="1" height="7" fill="#b22532"/>
<rect x="1096" y="708" width="1" height="9" fill="#b22532"/>
<path d="M1093 703h7v5h-7zM1094 704v3h5v-3z" fill="#b22532" fill-rule="evenodd"/>
<rect x="1094" y="704" width="5" height="3" fill="rgba(132,26,38,0.5)"/>
<rect x="1096" y="704" width="1" height="3" fill="rgba(255,90,110,0.06)"/>
<rect x="1105" y="708" width="1" height="7" fill="#b22532"/>
<rect x="1105" y="736" width="1" height="14" fill="#b22532"/>
<path d="M1102 715h7v21h-7zM1103 716v19h5v-19z" fill="#b22532" fill-rule="evenodd"/>
<rect x="1103" y="716" width="5" height="19" fill="rgba(132,26,38,0.5)"/>
<rect x="1105" y="716" width="1" height="19" fill="rgba(255,90,110,0.06)"/>
<rect x="1114" y="720" width="1" height="1" fill="#5b9cf6"/>
<rect x="1114" y="736" width="1" height="4" fill="#5b9cf6"/>
<path d="M1111 721h7v15h-7zM1112 722v13h5v-13z" fill="#5b9cf6" fill-rule="evenodd"/>
<rect x="1112" y="722" width="5" height="13" fill="rgba(24,78,251,0.55)"/>
<rect x="1114" y="722" width="1" height="13" fill="rgba(110,160,255,0.08)"/>
<rect x="1123" y="703" width="1" height="2" fill="#5b9cf6"/>
<rect x="1123" y="717" width="1" height="16" fill="#5b9cf6"/>
<path d="M1120 705h7v12h-7zM1121 706v10h5v-10z" fill="#5b9cf6" fill-rule="evenodd"/>
<rect x="1121" y="706" width="5" height="10" fill="rgba(24,78,251,0.55)"/>
<rect x="1123" y="706" width="1" height="10" fill="rgba(110,160,255,0.08)"/>
<rect x="1132" y="692" width="1" height="1" fill="#5b9cf6"/>
<rect x="1132" y="706" width="1" height="4" fill="#5b9cf6"/>
<path d="M1129 693h7v13h-7zM1130 694v11h5v-11z" fill="#5b9cf6" fill-rule="evenodd"/>
<rect x="1130" y="694" width="5" height="11" fill="rgba(24,78,251,0.55)"/>
<rect x="1132" y="694" width="1" height="11" fill="rgba(110,160,255,0.08)"/>
<rect x="1141" y="673" width="1" height="19" fill="#b22532"/>
<rect x="1141" y="709" width="1" height="1" fill="#b22532"/>
<path d="M1138 692h7v17h-7zM1139 693v15h5v-15z" fill="#b22532" fill-rule="evenodd"/>
<rect x="1139" y="693" width="5" height="15" fill="rgba(132,26,38,0.5)"/>
<rect x="1141" y="693" width="1" height="15" fill="rgba(255,90,110,0.06)"/>
<rect x="1150" y="687" width="1" height="21" fill="#b22532"/>
<rect x="1150" y="715" width="1" height="24" fill="#b22532"/>
<path d="M1147 708h7v7h-7zM1148 709v5h5v-5z" fill="#b22532" fill-rule="evenodd"/>
<rect x="1148" y="709" width="5" height="5" fill="rgba(132,26,38,0.5)"/>
<rect x="1150" y="709" width="1" height="5" fill="rgba(255,90,110,0.06)"/>
<rect x="1159" y="608" width="1" height="9" fill="#5b9cf6"/>
<rect x="1159" y="691" width="1" height="4" fill="#5b9cf6"/>
<path d="M1156 617h7v74h-7zM1157 618v72h5v-72z" fill="#5b9cf6" fill-rule="evenodd"/>
<rect x="1157" y="618" width="5" height="72" fill="rgba(24,78,251,0.55)"/>
<rect x="1159" y="618" width="1" height="72" fill="rgba(110,160,255,0.08)"/>
<rect x="1168" y="602" width="1" height="15" fill="#b22532"/>
<rect x="1168" y="639" width="1" height="11" fill="#b22532"/>
<path d="M1165 617h7v22h-7zM1166 618v20h5v-20z" fill="#b22532" fill-rule="evenodd"/>
<rect x="1166" y="618" width="5" height="20" fill="rgba(132,26,38,0.5)"/>
<rect x="1168" y="618" width="1" height="20" fill="rgba(255,90,110,0.06)"/>
<rect x="1177" y="623" width="1" height="21" fill="#b22532"/>
<rect x="1177" y="674" width="1" height="11" fill="#b22532"/>
<path d="M1174 644h7v30h-7zM1175 645v28h5v-28z" fill="#b22532" fill-rule="evenodd"/>
<rect x="1175" y="645" width="5" height="28" fill="rgba(132,26,38,0.5)"/>
<rect x="1177" y="645" width="1" height="28" fill="rgba(255,90,110,0.06)"/>
<rect x="1186" y="651" width="1" height="4" fill="#5b9cf6"/>
<rect x="1186" y="674" width="1" height="5" fill="#5b9cf6"/>
<path d="M1183 655h7v19h-7zM1184 656v17h5v-17z" fill="#5b9cf6" fill-rule="evenodd"/>
<rect x="1184" y="656" width="5" height="17" fill="rgba(24,78,251,0.55)"/>
<rect x="1186" y="656" width="1" height="17" fill="rgba(110,160,255,0.08)"/>
<rect x="1195" y="667" width="1" height="18" fill="#b22532"/>
<rect x="1195" y="690" width="1" height="27" fill="#b22532"/>
<path d="M1192 685h7v5h-7zM1193 686v3h5v-3z" fill="#b22532" fill-rule="evenodd"/>
<rect x="1193" y="686" width="5" height="3" fill="rgba(132,26,38,0.5)"/>
<rect x="1195" y="686" width="1" height="3" fill="rgba(255,90,110,0.06)"/>
<rect x="1204" y="682" width="1" height="7" fill="#b22532"/>
<rect x="1204" y="691" width="1" height="4" fill="#b22532"/>
<rect x="1201" y="689" width="7" height="2" fill="#b22532"/>
<rect x="1213" y="678" width="1" height="6" fill="#b22532"/>
<rect x="1213" y="695" width="1" height="3" fill="#b22532"/>
<path d="M1210 684h7v11h-7zM1211 685v9h5v-9z" fill="#b22532" fill-rule="evenodd"/>
<rect x="1211" y="685" width="5" height="9" fill="rgba(132,26,38,0.5)"/>
<rect x="1213" y="685" width="1" height="9" fill="rgba(255,90,110,0.06)"/>
<path d="M1219 694h7v28h-7zM1220 695v26h5v-26z" fill="#b22532" fill-rule="evenodd"/>
<rect x="1220" y="695" width="5" height="26" fill="rgba(132,26,38,0.5)"/>
<rect x="1222" y="695" width="1" height="26" fill="rgba(255,90,110,0.06)"/>
<rect x="1231" y="685" width="1" height="24" fill="#b22532"/>
<rect x="1231" y="714" width="1" height="6" fill="#b22532"/>
<path d="M1228 709h7v5h-7zM1229 710v3h5v-3z" fill="#b22532" fill-rule="evenodd"/>
<rect x="1229" y="710" width="5" height="3" fill="rgba(132,26,38,0.5)"/>
<rect x="1231" y="710" width="1" height="3" fill="rgba(255,90,110,0.06)"/>
<rect x="1240" y="712" width="1" height="1" fill="#b22532"/>
<path d="M1237 713h7v27h-7zM1238 714v25h5v-25z" fill="#b22532" fill-rule="evenodd"/>
<rect x="1238" y="714" width="5" height="25" fill="rgba(132,26,38,0.5)"/>
<rect x="1240" y="714" width="1" height="25" fill="rgba(255,90,110,0.06)"/>
<rect x="1249" y="764" width="1" height="1" fill="#b22532"/>
<rect x="1249" y="837" width="1" height="4" fill="#b22532"/>
<path d="M1246 765h7v72h-7zM1247 766v70h5v-70z" fill="#b22532" fill-rule="evenodd"/>
<rect x="1247" y="766" width="5" height="70" fill="rgba(132,26,38,0.5)"/>
<rect x="1249" y="766" width="1" height="70" fill="rgba(255,90,110,0.06)"/>
<rect x="1257" y="817" width="1" height="10" fill="#5b9cf6"/>
<rect x="1257" y="837" width="1" height="23" fill="#5b9cf6"/>
<path d="M1254 827h7v10h-7zM1255 828v8h5v-8z" fill="#5b9cf6" fill-rule="evenodd"/>
<rect x="1255" y="828" width="5" height="8" fill="rgba(24,78,251,0.55)"/>
<rect x="1257" y="828" width="1" height="8" fill="rgba(110,160,255,0.08)"/>
<rect x="1266" y="804" width="1" height="1" fill="#5b9cf6"/>
<rect x="1266" y="827" width="1" height="12" fill="#5b9cf6"/>
<path d="M1263 805h7v22h-7zM1264 806v20h5v-20z" fill="#5b9cf6" fill-rule="evenodd"/>
<rect x="1264" y="806" width="5" height="20" fill="rgba(24,78,251,0.55)"/>
<rect x="1266" y="806" width="1" height="20" fill="rgba(110,160,255,0.08)"/>
<rect x="1275" y="791" width="1" height="3" fill="#5b9cf6"/>
<rect x="1275" y="806" width="1" height="3" fill="#5b9cf6"/>
<path d="M1272 794h7v12h-7zM1273 795v10h5v-10z" fill="#5b9cf6" fill-rule="evenodd"/>
<rect x="1273" y="795" width="5" height="10" fill="rgba(24,78,251,0.55)"/>
<rect x="1275" y="795" width="1" height="10" fill="rgba(110,160,255,0.08)"/>
<rect x="1284" y="728" width="1" height="10" fill="#5b9cf6"/>
<rect x="1284" y="777" width="1" height="10" fill="#5b9cf6"/>
<path d="M1281 738h7v39h-7zM1282 739v37h5v-37z" fill="#5b9cf6" fill-rule="evenodd"/>
<rect x="1282" y="739" width="5" height="37" fill="rgba(24,78,251,0.55)"/>
<rect x="1284" y="739" width="1" height="37" fill="rgba(110,160,255,0.08)"/>
<rect x="1293" y="721" width="1" height="6" fill="#5b9cf6"/>
<rect x="1293" y="739" width="1" height="1" fill="#5b9cf6"/>
<path d="M1290 727h7v12h-7zM1291 728v10h5v-10z" fill="#5b9cf6" fill-rule="evenodd"/>
<rect x="1291" y="728" width="5" height="10" fill="rgba(24,78,251,0.55)"/>
<rect x="1293" y="728" width="1" height="10" fill="rgba(110,160,255,0.08)"/>
<rect x="1302" y="735" width="1" height="14" fill="#b22532"/>
<rect x="1302" y="763" width="1" height="4" fill="#b22532"/>
<path d="M1299 749h7v14h-7zM1300 750v12h5v-12z" fill="#b22532" fill-rule="evenodd"/>
<rect x="1300" y="750" width="5" height="12" fill="rgba(132,26,38,0.5)"/>
<rect x="1302" y="750" width="1" height="12" fill="rgba(255,90,110,0.06)"/>
<rect x="1311" y="741" width="1" height="2" fill="#5b9cf6"/>
<rect x="1311" y="764" width="1" height="1" fill="#5b9cf6"/>
<path d="M1308 743h7v21h-7zM1309 744v19h5v-19z" fill="#5b9cf6" fill-rule="evenodd"/>
<rect x="1309" y="744" width="5" height="19" fill="rgba(24,78,251,0.55)"/>
<rect x="1311" y="744" width="1" height="19" fill="rgba(110,160,255,0.08)"/>
<rect x="1320" y="659" width="1" height="26" fill="#5b9cf6"/>
<rect x="1320" y="707" width="1" height="1" fill="#5b9cf6"/>
<path d="M1317 685h7v22h-7zM1318 686v20h5v-20z" fill="#5b9cf6" fill-rule="evenodd"/>
<rect x="1318" y="686" width="5" height="20" fill="rgba(24,78,251,0.55)"/>
<rect x="1320" y="686" width="1" height="20" fill="rgba(110,160,255,0.08)"/>
<rect x="1329" y="675" width="1" height="5" fill="#5b9cf6"/>
<rect x="1329" y="686" width="1" height="15" fill="#5b9cf6"/>
<path d="M1326 680h7v6h-7zM1327 681v4h5v-4z" fill="#5b9cf6" fill-rule="evenodd"/>
<rect x="1327" y="681" width="5" height="4" fill="rgba(24,78,251,0.55)"/>
<rect x="1329" y="681" width="1" height="4" fill="rgba(110,160,255,0.08)"/>
<rect x="1338" y="622" width="1" height="18" fill="#b22532"/>
<rect x="1338" y="646" width="1" height="23" fill="#b22532"/>
<path d="M1335 640h7v6h-7zM1336 641v4h5v-4z" fill="#b22532" fill-rule="evenodd"/>
<rect x="1336" y="641" width="5" height="4" fill="rgba(132,26,38,0.5)"/>
<rect x="1338" y="641" width="1" height="4" fill="rgba(255,90,110,0.06)"/>
<rect x="1347" y="622" width="1" height="3" fill="#5b9cf6"/>
<rect x="1347" y="646" width="1" height="3" fill="#5b9cf6"/>
<path d="M1344 625h7v21h-7zM1345 626v19h5v-19z" fill="#5b9cf6" fill-rule="evenodd"/>
<rect x="1345" y="626" width="5" height="19" fill="rgba(24,78,251,0.55)"/>
<rect x="1347" y="626" width="1" height="19" fill="rgba(110,160,255,0.08)"/>
<rect x="1356" y="601" width="1" height="24" fill="#5b9cf6"/>
<rect x="1356" y="630" width="1" height="25" fill="#5b9cf6"/>
<path d="M1353 625h7v5h-7zM1354 626v3h5v-3z" fill="#5b9cf6" fill-rule="evenodd"/>
<rect x="1354" y="626" width="5" height="3" fill="rgba(24,78,251,0.55)"/>
<rect x="1356" y="626" width="1" height="3" fill="rgba(110,160,255,0.08)"/>
<rect x="1365" y="623" width="1" height="3" fill="#b22532"/>
<rect x="1365" y="627" width="1" height="29" fill="#b22532"/>
<rect x="1362" y="626" width="7" height="1" fill="#b22532"/>
<rect x="1374" y="575" width="1" height="8" fill="#b22532"/>
<rect x="1374" y="598" width="1" height="16" fill="#b22532"/>
<path d="M1371 583h7v15h-7zM1372 584v13h5v-13z" fill="#b22532" fill-rule="evenodd"/>
<rect x="1372" y="584" width="5" height="13" fill="rgba(132,26,38,0.5)"/>
<rect x="1374" y="584" width="1" height="13" fill="rgba(255,90,110,0.06)"/>
<rect x="1383" y="595" width="1" height="2" fill="#5b9cf6"/>
<rect x="1383" y="598" width="1" height="18" fill="#5b9cf6"/>
<rect x="1380" y="597" width="7" height="1" fill="#5b9cf6"/>
<rect x="1392" y="598" width="1" height="2" fill="#b22532"/>
<rect x="1392" y="698" width="1" height="17" fill="#b22532"/>
<path d="M1389 600h7v98h-7zM1390 601v96h5v-96z" fill="#b22532" fill-rule="evenodd"/>
<rect x="1390" y="601" width="5" height="96" fill="rgba(132,26,38,0.5)"/>
<rect x="1392" y="601" width="1" height="96" fill="rgba(255,90,110,0.06)"/>
<rect x="1401" y="688" width="1" height="10" fill="#b22532"/>
<path d="M1398 698h7v22h-7zM1399 699v20h5v-20z" fill="#b22532" fill-rule="evenodd"/>
<rect x="1399" y="699" width="5" height="20" fill="rgba(132,26,38,0.5)"/>
<rect x="1401" y="699" width="1" height="20" fill="rgba(255,90,110,0.06)"/>
<rect x="1410" y="688" width="1" height="3" fill="#b22532"/>
<rect x="1410" y="714" width="1" height="28" fill="#b22532"/>
<path d="M1407 691h7v23h-7zM1408 692v21h5v-21z" fill="#b22532" fill-rule="evenodd"/>
<rect x="1408" y="692" width="5" height="21" fill="rgba(132,26,38,0.5)"/>
<rect x="1410" y="692" width="1" height="21" fill="rgba(255,90,110,0.06)"/>
<rect x="1419" y="707" width="1" height="3" fill="#5b9cf6"/>
<rect x="1419" y="714" width="1" height="11" fill="#5b9cf6"/>
<path d="M1416 710h7v4h-7zM1417 711v2h5v-2z" fill="#5b9cf6" fill-rule="evenodd"/>
<rect x="1417" y="711" width="5" height="2" fill="rgba(24,78,251,0.55)"/>
<rect x="1419" y="711" width="1" height="2" fill="rgba(110,160,255,0.08)"/>
<rect x="1428" y="717" width="1" height="6" fill="#b22532"/>
<rect x="1428" y="754" width="1" height="3" fill="#b22532"/>
<path d="M1425 723h7v31h-7zM1426 724v29h5v-29z" fill="#b22532" fill-rule="evenodd"/>
<rect x="1426" y="724" width="5" height="29" fill="rgba(132,26,38,0.5)"/>
<rect x="1428" y="724" width="1" height="29" fill="rgba(255,90,110,0.06)"/>
<rect x="1437" y="741" width="1" height="9" fill="#5b9cf6"/>
<rect x="1437" y="754" width="1" height="5" fill="#5b9cf6"/>
<path d="M1434 750h7v4h-7zM1435 751v2h5v-2z" fill="#5b9cf6" fill-rule="evenodd"/>
<rect x="1435" y="751" width="5" height="2" fill="rgba(24,78,251,0.55)"/>
<rect x="1437" y="751" width="1" height="2" fill="rgba(110,160,255,0.08)"/>
<rect x="1446" y="788" width="1" height="29" fill="#b22532"/>
<path d="M1443 740h7v48h-7zM1444 741v46h5v-46z" fill="#b22532" fill-rule="evenodd"/>
<rect x="1444" y="741" width="5" height="46" fill="rgba(132,26,38,0.5)"/>
<rect x="1446" y="741" width="1" height="46" fill="rgba(255,90,110,0.06)"/>
<rect x="1455" y="782" width="1" height="5" fill="#b22532"/>
<path d="M1452 787h7v26h-7zM1453 788v24h5v-24z" fill="#b22532" fill-rule="evenodd"/>
<rect x="1453" y="788" width="5" height="24" fill="rgba(132,26,38,0.5)"/>
<rect x="1455" y="788" width="1" height="24" fill="rgba(255,90,110,0.06)"/>
<rect x="1464" y="776" width="1" height="20" fill="#5b9cf6"/>
<rect x="1464" y="806" width="1" height="22" fill="#5b9cf6"/>
<path d="M1461 796h7v10h-7zM1462 797v8h5v-8z" fill="#5b9cf6" fill-rule="evenodd"/>
<rect x="1462" y="797" width="5" height="8" fill="rgba(24,78,251,0.55)"/>
<rect x="1464" y="797" width="1" height="8" fill="rgba(110,160,255,0.08)"/>
<rect x="1473" y="768" width="1" height="2" fill="#5b9cf6"/>
<path d="M1470 770h7v28h-7zM1471 771v26h5v-26z" fill="#5b9cf6" fill-rule="evenodd"/>
<rect x="1471" y="771" width="5" height="26" fill="rgba(24,78,251,0.55)"/>
<rect x="1473" y="771" width="1" height="26" fill="rgba(110,160,255,0.08)"/>
<rect x="1482" y="781" width="1" height="1" fill="#5b9cf6"/>
<rect x="1482" y="827" width="1" height="14" fill="#5b9cf6"/>
<path d="M1479 782h7v45h-7zM1480 783v43h5v-43z" fill="#5b9cf6" fill-rule="evenodd"/>
<rect x="1480" y="783" width="5" height="43" fill="rgba(24,78,251,0.55)"/>
<rect x="1482" y="783" width="1" height="43" fill="rgba(110,160,255,0.08)"/>
<path d="M1488 781h7v48h-7zM1489 782v46h5v-46z" fill="#b22532" fill-rule="evenodd"/>
<rect x="1489" y="782" width="5" height="46" fill="rgba(132,26,38,0.5)"/>
<rect x="1491" y="782" width="1" height="46" fill="rgba(255,90,110,0.06)"/>
<rect x="1500" y="796" width="1" height="20" fill="#b22532"/>
<rect x="1500" y="846" width="1" height="5" fill="#b22532"/>
<path d="M1497 816h7v30h-7zM1498 817v28h5v-28z" fill="#b22532" fill-rule="evenodd"/>
<rect x="1498" y="817" width="5" height="28" fill="rgba(132,26,38,0.5)"/>
<rect x="1500" y="817" width="1" height="28" fill="rgba(255,90,110,0.06)"/>
<rect x="1509" y="829" width="1" height="15" fill="#5b9cf6"/>
<rect x="1509" y="846" width="1" height="2" fill="#5b9cf6"/>
<rect x="1506" y="844" width="7" height="2" fill="#5b9cf6"/>
<rect x="1518" y="824" width="1" height="6" fill="#b22532"/>
<rect x="1518" y="858" width="1" height="29" fill="#b22532"/>
<path d="M1515 830h7v28h-7zM1516 831v26h5v-26z" fill="#b22532" fill-rule="evenodd"/>
<rect x="1516" y="831" width="5" height="26" fill="rgba(132,26,38,0.5)"/>
<rect x="1518" y="831" width="1" height="26" fill="rgba(255,90,110,0.06)"/>
<rect x="1527" y="856" width="1" height="3" fill="#b22532"/>
<rect x="1527" y="895" width="1" height="5" fill="#b22532"/>
<path d="M1524 859h7v36h-7zM1525 860v34h5v-34z" fill="#b22532" fill-rule="evenodd"/>
<rect x="1525" y="860" width="5" height="34" fill="rgba(132,26,38,0.5)"/>
<rect x="1527" y="860" width="1" height="34" fill="rgba(255,90,110,0.06)"/>
<rect x="1536" y="869" width="1" height="11" fill="#5b9cf6"/>
<path d="M1533 880h7v34h-7zM1534 881v32h5v-32z" fill="#5b9cf6" fill-rule="evenodd"/>
<rect x="1534" y="881" width="5" height="32" fill="rgba(24,78,251,0.55)"/>
<rect x="1536" y="881" width="1" height="32" fill="rgba(110,160,255,0.08)"/>
<rect x="1545" y="859" width="1" height="12" fill="#5b9cf6"/>
<rect x="1545" y="880" width="1" height="2" fill="#5b9cf6"/>
<path d="M1542 871h7v9h-7zM1543 872v7h5v-7z" fill="#5b9cf6" fill-rule="evenodd"/>
<rect x="1543" y="872" width="5" height="7" fill="rgba(24,78,251,0.55)"/>
<rect x="1545" y="872" width="1" height="7" fill="rgba(110,160,255,0.08)"/>
<rect x="1553" y="806" width="1" height="22" fill="#5b9cf6"/>
<rect x="1553" y="840" width="1" height="12" fill="#5b9cf6"/>
<path d="M1550 828h7v12h-7zM1551 829v10h5v-10z" fill="#5b9cf6" fill-rule="evenodd"/>
<rect x="1551" y="829" width="5" height="10" fill="rgba(24,78,251,0.55)"/>
<rect x="1553" y="829" width="1" height="10" fill="rgba(110,160,255,0.08)"/>
<path d="M1559 828h7v17h-7zM1560 829v15h5v-15z" fill="#b22532" fill-rule="evenodd"/>
<rect x="1560" y="829" width="5" height="15" fill="rgba(132,26,38,0.5)"/>
<rect x="1562" y="829" width="1" height="15" fill="rgba(255,90,110,0.06)"/>
<rect x="1571" y="807" width="1" height="16" fill="#5b9cf6"/>
<rect x="1571" y="856" width="1" height="7" fill="#5b9cf6"/>
<path d="M1568 823h7v33h-7zM1569 824v31h5v-31z" fill="#5b9cf6" fill-rule="evenodd"/>
<rect x="1569" y="824" width="5" height="31" fill="rgba(24,78,251,0.55)"/>
<rect x="1571" y="824" width="1" height="31" fill="rgba(110,160,255,0.08)"/>
<rect x="1580" y="818" width="1" height="4" fill="#b22532"/>
<rect x="1580" y="823" width="1" height="8" fill="#b22532"/>
<rect x="1577" y="822" width="7" height="1" fill="#b22532"/>
<rect x="1589" y="838" width="1" height="17" fill="#b22532"/>
<rect x="1589" y="895" width="1" height="1" fill="#b22532"/>
<path d="M1586 855h7v40h-7zM1587 856v38h5v-38z" fill="#b22532" fill-rule="evenodd"/>
<rect x="1587" y="856" width="5" height="38" fill="rgba(132,26,38,0.5)"/>
<rect x="1589" y="856" width="1" height="38" fill="rgba(255,90,110,0.06)"/>
<rect x="1598" y="891" width="1" height="3" fill="#b22532"/>
<rect x="1598" y="907" width="1" height="15" fill="#b22532"/>
<path d="M1595 894h7v13h-7zM1596 895v11h5v-11z" fill="#b22532" fill-rule="evenodd"/>
<rect x="1596" y="895" width="5" height="11" fill="rgba(132,26,38,0.5)"/>
<rect x="1598" y="895" width="1" height="11" fill="rgba(255,90,110,0.06)"/>
<rect x="1607" y="876" width="1" height="11" fill="#5b9cf6"/>
<rect x="1607" y="888" width="1" height="26" fill="#5b9cf6"/>
<rect x="1604" y="887" width="7" height="1" fill="#5b9cf6"/>
<rect x="1616" y="873" width="1" height="13" fill="#b22532"/>
<rect x="1616" y="890" width="1" height="7" fill="#b22532"/>
<path d="M1613 886h7v4h-7zM1614 887v2h5v-2z" fill="#b22532" fill-rule="evenodd"/>
<rect x="1614" y="887" width="5" height="2" fill="rgba(132,26,38,0.5)"/>
<rect x="1616" y="887" width="1" height="2" fill="rgba(255,90,110,0.06)"/>
<rect x="1625" y="861" width="1" height="6" fill="#b22532"/>
<rect x="1625" y="877" width="1" height="8" fill="#b22532"/>
<path d="M1622 867h7v10h-7zM1623 868v8h5v-8z" fill="#b22532" fill-rule="evenodd"/>
<rect x="1623" y="868" width="5" height="8" fill="rgba(132,26,38,0.5)"/>
<rect x="1625" y="868" width="1" height="8" fill="rgba(255,90,110,0.06)"/>
<rect x="1634" y="868" width="1" height="5" fill="#5b9cf6"/>
<rect x="1634" y="878" width="1" height="1" fill="#5b9cf6"/>
<path d="M1631 873h7v5h-7zM1632 874v3h5v-3z" fill="#5b9cf6" fill-rule="evenodd"/>
<rect x="1632" y="874" width="5" height="3" fill="rgba(24,78,251,0.55)"/>
<rect x="1634" y="874" width="1" height="3" fill="rgba(110,160,255,0.08)"/>
<rect x="1643" y="831" width="1" height="1" fill="#b22532"/>
<rect x="1643" y="844" width="1" height="14" fill="#b22532"/>
<path d="M1640 832h7v12h-7zM1641 833v10h5v-10z" fill="#b22532" fill-rule="evenodd"/>
<rect x="1641" y="833" width="5" height="10" fill="rgba(132,26,38,0.5)"/>
<rect x="1643" y="833" width="1" height="10" fill="rgba(255,90,110,0.06)"/>
<rect x="1652" y="833" width="1" height="10" fill="#b22532"/>
<rect x="1652" y="848" width="1" height="2" fill="#b22532"/>
<path d="M1649 843h7v5h-7zM1650 844v3h5v-3z" fill="#b22532" fill-rule="evenodd"/>
<rect x="1650" y="844" width="5" height="3" fill="rgba(132,26,38,0.5)"/>
<rect x="1652" y="844" width="1" height="3" fill="rgba(255,90,110,0.06)"/>
<rect x="1661" y="841" width="1" height="9" fill="#b22532"/>
<rect x="1661" y="869" width="1" height="2" fill="#b22532"/>
<path d="M1658 850h7v19h-7zM1659 851v17h5v-17z" fill="#b22532" fill-rule="evenodd"/>
<rect x="1659" y="851" width="5" height="17" fill="rgba(132,26,38,0.5)"/>
<rect x="1661" y="851" width="1" height="17" fill="rgba(255,90,110,0.06)"/>
<rect x="1670" y="865" width="1" height="4" fill="#b22532"/>
<path d="M1667 869h7v23h-7zM1668 870v21h5v-21z" fill="#b22532" fill-rule="evenodd"/>
<rect x="1668" y="870" width="5" height="21" fill="rgba(132,26,38,0.5)"/>
<rect x="1670" y="870" width="1" height="21" fill="rgba(255,90,110,0.06)"/>
<rect x="1679" y="884" width="1" height="8" fill="#b22532"/>
<rect x="1679" y="906" width="1" height="9" fill="#b22532"/>
<path d="M1676 892h7v14h-7zM1677 893v12h5v-12z" fill="#b22532" fill-rule="evenodd"/>
<rect x="1677" y="893" width="5" height="12" fill="rgba(132,26,38,0.5)"/>
<rect x="1679" y="893" width="1" height="12" fill="rgba(255,90,110,0.06)"/>
<rect x="1688" y="898" width="1" height="8" fill="#b22532"/>
<rect x="1688" y="928" width="1" height="4" fill="#b22532"/>
<path d="M1685 906h7v22h-7zM1686 907v20h5v-20z" fill="#b22532" fill-rule="evenodd"/>
<rect x="1686" y="907" width="5" height="20" fill="rgba(132,26,38,0.5)"/>
<rect x="1688" y="907" width="1" height="20" fill="rgba(255,90,110,0.06)"/>
<rect x="1697" y="943" width="1" height="5" fill="#b22532"/>
<rect x="1697" y="970" width="1" height="9" fill="#b22532"/>
<path d="M1694 948h7v22h-7zM1695 949v20h5v-20z" fill="#b22532" fill-rule="evenodd"/>
<rect x="1695" y="949" width="5" height="20" fill="rgba(132,26,38,0.5)"/>
<rect x="1697" y="949" width="1" height="20" fill="rgba(255,90,110,0.06)"/>
<rect x="1706" y="968" width="1" height="1" fill="#b22532"/>
<path d="M1703 969h7v40h-7zM1704 970v38h5v-38z" fill="#b22532" fill-rule="evenodd"/>
<rect x="1704" y="970" width="5" height="38" fill="rgba(132,26,38,0.5)"/>
<rect x="1706" y="970" width="1" height="38" fill="rgba(255,90,110,0.06)"/>
<rect x="1715" y="923" width="1" height="25" fill="#b22532"/>
<rect x="1715" y="949" width="1" height="26" fill="#b22532"/>
<rect x="1712" y="948" width="7" height="1" fill="#b22532"/>
<rect x="1724" y="942" width="1" height="6" fill="#b22532"/>
<rect x="1724" y="951" width="1" height="14" fill="#b22532"/>
<path d="M1721 948h7v3h-7zM1722 949v1h5v-1z" fill="#b22532" fill-rule="evenodd"/>
<rect x="1722" y="949" width="5" height="1" fill="rgba(132,26,38,0.5)"/>
<rect x="1724" y="949" width="1" height="1" fill="rgba(255,90,110,0.06)"/>
<line x1="7" y1="950.5" x2="2408" y2="950.5" stroke="#c8c8c8" stroke-width="1" stroke-dasharray="1 2"/>
<g clip-path="url(#pane)"><line x1="378.6" y1="222.0" x2="2400" y2="1195.5" stroke="#ffeb3b" stroke-width="2" stroke-dasharray="10 12" shape-rendering="auto"/></g>
<path d="M549.5 1159.6 L558.0 1164.9 V1178 H541.0 V1164.9 Z" fill="#0f0f0f" stroke="#08876e" stroke-width="2" stroke-linejoin="round" shape-rendering="auto"/><text x="549.7" y="1174" text-anchor="middle" font-size="12" fill="#08876e" textLength="6.4" lengthAdjust="spacingAndGlyphs">E</text>
<path d="M1697.5 1159.6 L1706.0 1164.9 V1178 H1689.0 V1164.9 Z" fill="#0f0f0f" stroke="#08876e" stroke-width="2" stroke-linejoin="round" shape-rendering="auto"/><text x="1697.7" y="1174" text-anchor="middle" font-size="12" fill="#08876e" textLength="6.4" lengthAdjust="spacingAndGlyphs">E</text>
<circle cx="1724.4" cy="1169.4" r="9.4" fill="#0f0f0f" stroke="#bb4fd6" stroke-width="1.9" shape-rendering="auto"/><path d="M1728.4 1163.6 L1720.0 1170.1 L1724.4 1170.1 L1721.0 1175.6 L1729.2 1168.7 L1724.9 1168.7 Z" fill="#bb4fd6" shape-rendering="auto"/>
<text x="5.5" y="17" font-size="12" fill="#d1d4dc" font-weight="bold" textLength="86.0" lengthAdjust="spacingAndGlyphs">QuantAi-Trend</text><text x="94.7" y="17" font-size="12" fill="#d1d4dc" textLength="368.7" lengthAdjust="spacingAndGlyphs">published on TradingView.com, November 02, 2025 00:11:33 EST</text><text x="5.5" y="34" font-size="12" fill="#d1d4dc" font-weight="bold" textLength="94.5" lengthAdjust="spacingAndGlyphs">BATS:MSTR, 240</text><text x="105.1" y="34" font-size="12" fill="#d1d4dc" textLength="38.7" lengthAdjust="spacingAndGlyphs">269.51</text><text x="160.3" y="34" font-size="12" fill="#d1d4dc" textLength="39.4" lengthAdjust="spacingAndGlyphs">+14.94</text><text x="202.3" y="34" font-size="12" fill="#d1d4dc" textLength="50.2" lengthAdjust="spacingAndGlyphs">(+5.87%)</text><text x="256.7" y="34" font-size="12" fill="#d1d4dc" font-weight="bold" textLength="13.8" lengthAdjust="spacingAndGlyphs">O:</text><text x="272.0" y="34" font-size="12" fill="#26a69a" textLength="38.6" lengthAdjust="spacingAndGlyphs">269.93</text><text x="315.2" y="34" font-size="12" fill="#d1d4dc" font-weight="bold" textLength="12.5" lengthAdjust="spacingAndGlyphs">H:</text><text x="328.6" y="34" font-size="12" fill="#26a69a" textLength="38.6" lengthAdjust="spacingAndGlyphs">271.56</text><text x="371.3" y="34" font-size="12" fill="#d1d4dc" font-weight="bold" textLength="9.5" lengthAdjust="spacingAndGlyphs">L:</text><text x="382.1" y="34" font-size="12" fill="#26a69a" textLength="39.1" lengthAdjust="spacingAndGlyphs">265.50</text><text x="424.5" y="34" font-size="12" fill="#d1d4dc" font-weight="bold" textLength="12.2" lengthAdjust="spacingAndGlyphs">C:</text><text x="437.2" y="34" font-size="12" fill="#26a69a" textLength="38.4" lengthAdjust="spacingAndGlyphs">269.57</text><path d="M147 33.6 H157 L152 26.4 Z" fill="#26a69a" shape-rendering="auto"/><text x="2453" y="90.6" font-size="12.2" fill="#b2b5be" text-anchor="end" textLength="36.2" lengthAdjust="spacingAndGlyphs">490.00</text><text x="2453" y="129.8" font-size="12.2" fill="#b2b5be" text-anchor="end" textLength="36.2" lengthAdjust="spacingAndGlyphs">480.00</text><text x="2453" y="169.0" font-size="12.2" fill="#b2b5be" text-anchor="end" textLength="36.2" lengthAdjust="spacingAndGlyphs">470.00</text><text x="2453" y="208.1" font-size="12.2" fill="#b2b5be" text-anchor="end" textLength="36.2" lengthAdjust="spacingAndGlyphs">460.00</text><text x="2453" y="247.3" font-size="12.2" fill="#b2b5be" text-anchor="end" textLength="36.2" lengthAdjust="spacingAndGlyphs">450.00</text><text x="2453" y="286.5" font-size="12.2" fill="#b2b5be" text-anchor="end" textLength="36.2" lengthAdjust="spacingAndGlyphs">440.00</text><text x="2453" y="325.7" font-size="12.2" fill="#b2b5be" text-anchor="end" textLength="36.2" lengthAdjust="spacingAndGlyphs">430.00</text><text x="2453" y="364.9" font-size="12.2" fill="#b2b5be" text-anchor="end" textLength="36.2" lengthAdjust="spacingAndGlyphs">420.00</text><text x="2453" y="404.0" font-size="12.2" fill="#b2b5be" text-anchor="end" textLength="36.2" lengthAdjust="spacingAndGlyphs">410.00</text><text x="2453" y="443.2" font-size="12.2" fill="#b2b5be" text-anchor="end" textLength="36.2" lengthAdjust="spacingAndGlyphs">400.00</text><text x="2453" y="482.4" font-size="12.2" fill="#b2b5be" text-anchor="end" textLength="36.2" lengthAdjust="spacingAndGlyphs">390.00</text><text x="2453" y="521.6" font-size="12.2" fill="#b2b5be" text-anchor="end" textLength="36.2" lengthAdjust="spacingAndGlyphs">380.00</text><text x="2453" y="560.8" font-size="12.2" fill="#b2b5be" text-anchor="end" textLength="36.2" lengthAdjust="spacingAndGlyphs">370.00</text><text x="2453" y="599.9" font-size="12.2" fill="#b2b5be" text-anchor="end" textLength="36.2" lengthAdjust="spacingAndGlyphs">360.00</text><text x="2453" y="639.1" font-size="12.2" fill="#b2b5be" text-anchor="end" textLength="36.2" lengthAdjust="spacingAndGlyphs">350.00</text><text x="2453" y="678.3" font-size="12.2" fill="#b2b5be" text-anchor="end" textLength="36.2" lengthAdjust="spacingAndGlyphs">340.00</text><text x="2453" y="717.5" font-size="12.2" fill="#b2b5be" text-anchor="end" textLength="36.2" lengthAdjust="spacingAndGlyphs">330.00</text><text x="2453" y="756.7" font-size="12.2" fill="#b2b5be" text-anchor="end" textLength="36.2" lengthAdjust="spacingAndGlyphs">320.00</text><text x="2453" y="795.8" font-size="12.2" fill="#b2b5be" text-anchor="end" textLength="36.2" lengthAdjust="spacingAndGlyphs">310.00</text><text x="2453" y="835.0" font-size="12.2" fill="#b2b5be" text-anchor="end" textLength="36.2" lengthAdjust="spacingAndGlyphs">300.00</text><text x="2453" y="874.2" font-size="12.2" fill="#b2b5be" text-anchor="end" textLength="36.2" lengthAdjust="spacingAndGlyphs">290.00</text><text x="2453" y="913.4" font-size="12.2" fill="#b2b5be" text-anchor="end" textLength="36.2" lengthAdjust="spacingAndGlyphs">280.00</text><text x="2453" y="952.6" font-size="12.2" fill="#b2b5be" text-anchor="end" textLength="36.2" lengthAdjust="spacingAndGlyphs">270.00</text><text x="2453" y="991.7" font-size="12.2" fill="#b2b5be" text-anchor="end" textLength="36.2" lengthAdjust="spacingAndGlyphs">260.00</text><text x="2453" y="1030.9" font-size="12.2" fill="#b2b5be" text-anchor="end" textLength="36.2" lengthAdjust="spacingAndGlyphs">250.00</text><text x="2453" y="1070.1" font-size="12.2" fill="#b2b5be" text-anchor="end" textLength="36.2" lengthAdjust="spacingAndGlyphs">240.00</text><text x="2453" y="1109.3" font-size="12.2" fill="#b2b5be" text-anchor="end" textLength="36.2" lengthAdjust="spacingAndGlyphs">230.00</text><text x="2453" y="1148.5" font-size="12.2" fill="#b2b5be" text-anchor="end" textLength="36.2" lengthAdjust="spacingAndGlyphs">220.00</text><rect x="2412.2" y="48.2" width="45.6" height="25.8" rx="4.5" fill="#101010" stroke="#303030" stroke-width="1.5" shape-rendering="auto"/><text x="2420.5" y="66.1" font-size="12.4" fill="#d1d4dc" font-weight="bold" textLength="22.0" lengthAdjust="spacingAndGlyphs">USD</text><path d="M2409 446 H2455 Q2457.5 446 2457.5 448.5 V460.5 Q2457.5 463 2455 463 H2409 Z" fill="#fcc930" shape-rendering="auto"/><text x="2453" y="459" font-size="12.2" fill="#000" text-anchor="end" textLength="36.2" lengthAdjust="spacingAndGlyphs">396.02</text><path d="M2409 720 H2455 Q2457.5 720 2457.5 722.5 V734.5 Q2457.5 737 2455 737 H2409 Z" fill="#ffffff" shape-rendering="auto"/><text x="2453" y="733" font-size="12.2" fill="#000" text-anchor="end" textLength="36.2" lengthAdjust="spacingAndGlyphs">326.22</text><path d="M2409 942 H2455 Q2457.5 942 2457.5 944.5 V956.5 Q2457.5 959 2455 959 H2409 Z" fill="#ffffff" shape-rendering="auto"/><text x="2453" y="955" font-size="12.2" fill="#000" text-anchor="end" textLength="36.2" lengthAdjust="spacingAndGlyphs">269.57</text><text x="38" y="1200" font-size="12" fill="#b2b5be" text-anchor="middle">18</text><text x="92" y="1200" font-size="12" fill="#b2b5be" text-anchor="middle">24</text><text x="181" y="1200" font-size="12" fill="#b2b5be" font-weight="bold" text-anchor="middle">Jul</text><text x="244" y="1200" font-size="12" fill="#b2b5be" text-anchor="middle">8</text><text x="298" y="1200" font-size="12" fill="#b2b5be" text-anchor="middle">11</text><text x="352" y="1200" font-size="12" fill="#b2b5be" text-anchor="middle">16</text><text x="405" y="1200" font-size="12" fill="#b2b5be" text-anchor="middle">21</text><text x="459" y="1200" font-size="12" fill="#b2b5be" text-anchor="middle">24</text><text x="513" y="1200" font-size="12" fill="#b2b5be" text-anchor="middle">29</text><text x="567" y="1200" font-size="12" fill="#b2b5be" font-weight="bold" text-anchor="middle">Aug</text><text x="621" y="1200" font-size="12" fill="#b2b5be" text-anchor="middle">6</text><text x="674" y="1200" font-size="12" fill="#b2b5be" text-anchor="middle">11</text><text x="728" y="1200" font-size="12" fill="#b2b5be" text-anchor="middle">14</text><text x="782" y="1200" font-size="12" fill="#b2b5be" text-anchor="middle">19</text><text x="836" y="1200" font-size="12" fill="#b2b5be" text-anchor="middle">22</text><text x="890" y="1200" font-size="12" fill="#b2b5be" text-anchor="middle">27</text><text x="944" y="1200" font-size="12" fill="#b2b5be" font-weight="bold" text-anchor="middle">Sep</text><text x="997" y="1200" font-size="12" fill="#b2b5be" text-anchor="middle">5</text><text x="1051" y="1200" font-size="12" fill="#b2b5be" text-anchor="middle">10</text><text x="1105" y="1200" font-size="12" fill="#b2b5be" text-anchor="middle">15</text><text x="1159" y="1200" font-size="12" fill="#b2b5be" text-anchor="middle">18</text><text x="1213" y="1200" font-size="12" fill="#b2b5be" text-anchor="middle">23</text><text x="1266" y="1200" font-size="12" fill="#b2b5be" text-anchor="middle">26</text><text x="1320" y="1200" font-size="12" fill="#b2b5be" font-weight="bold" text-anchor="middle">Oct</text><text x="1374" y="1200" font-size="12" fill="#b2b5be" text-anchor="middle">6</text><text x="1428" y="1200" font-size="12" fill="#b2b5be" text-anchor="middle">9</text><text x="1482" y="1200" font-size="12" fill="#b2b5be" text-anchor="middle">14</text><text x="1536" y="1200" font-size="12" fill="#b2b5be" text-anchor="middle">17</text><text x="1589" y="1200" font-size="12" fill="#b2b5be" text-anchor="middle">22</text><text x="1643" y="1200" font-size="12" fill="#b2b5be" text-anchor="middle">27</text><text x="1733" y="1200" font-size="12" fill="#b2b5be" font-weight="bold" text-anchor="middle">Nov</text><text x="1787" y="1200" font-size="12" fill="#b2b5be" text-anchor="middle">6</text><text x="1840" y="1200" font-size="12" fill="#b2b5be" text-anchor="middle">11</text><text x="1894" y="1200" font-size="12" fill="#b2b5be" text-anchor="middle">14</text><text x="1948" y="1200" font-size="12" fill="#b2b5be" text-anchor="middle">19</text><text x="2002" y="1200" font-size="12" fill="#b2b5be" text-anchor="middle">24</text><text x="2065" y="1200" font-size="12" fill="#b2b5be" font-weight="bold" text-anchor="middle">Dec</text><text x="2119" y="1200" font-size="12" fill="#b2b5be" text-anchor="middle">4</text><text x="2172" y="1200" font-size="12" fill="#b2b5be" text-anchor="middle">9</text><text x="2226" y="1200" font-size="12" fill="#b2b5be" text-anchor="middle">12</text><text x="2280" y="1200" font-size="12" fill="#b2b5be" text-anchor="middle">17</text><text x="2334" y="1200" font-size="12" fill="#b2b5be" text-anchor="middle">22</text><text x="2397" y="1200" font-size="12" fill="#b2b5be" text-anchor="middle">29</text><g fill="#d1d4dc" shape-rendering="auto"><path d="M6 1222.5 H15 V1234 H10.5 V1226.5 H6 Z"/><circle cx="19.3" cy="1224.8" r="2.2"/><path d="M23.5 1222.5 H28.6 L24.2 1234 H19 Z"/></g><text x="32.9" y="1234" font-size="16" fill="#d1d4dc" font-weight="bold" textLength="92.2" lengthAdjust="spacingAndGlyphs">TradingView</text>
</svg>
</body></html>
